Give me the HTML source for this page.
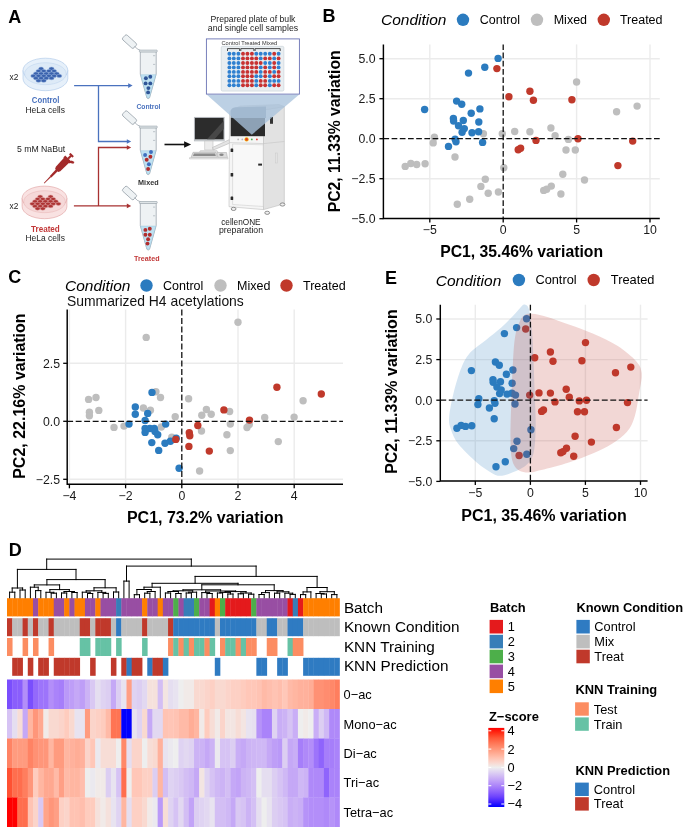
<!DOCTYPE html><html><head><meta charset="utf-8"><style>html,body{margin:0;padding:0;background:#fff;width:685px;height:827px;overflow:hidden}svg{display:block;will-change:transform}text{font-family:"Liberation Sans",sans-serif}</style></head><body><svg width="685" height="827" viewBox="0 0 685 827" font-family="Liberation Sans, sans-serif">
<rect width="685" height="827" fill="#fff"/>
<text x="322.6" y="22.2" font-size="18.00" font-weight="bold" fill="#000">B</text>
<text x="381.0" y="24.8" font-size="15.50" font-style="italic" fill="#000">Condition</text>
<circle cx="463.0" cy="19.8" r="6.20" fill="#2b7bbf"/>
<text x="479.8" y="24.2" font-size="12.50" fill="#000">Control</text>
<circle cx="537.0" cy="19.8" r="6.20" fill="#bebebe"/>
<text x="553.7" y="24.2" font-size="12.50" fill="#000">Mixed</text>
<circle cx="603.8" cy="19.8" r="6.20" fill="#c0392b"/>
<text x="619.9" y="24.2" font-size="12.50" fill="#000">Treated</text>
<line x1="429.8" y1="44.4" x2="429.8" y2="218.5" stroke="#ebebeb" stroke-width="1.4"/>
<line x1="576.6" y1="44.4" x2="576.6" y2="218.5" stroke="#ebebeb" stroke-width="1.4"/>
<line x1="650.0" y1="44.4" x2="650.0" y2="218.5" stroke="#ebebeb" stroke-width="1.4"/>
<line x1="383.4" y1="58.7" x2="659.8" y2="58.7" stroke="#ebebeb" stroke-width="1.4"/>
<line x1="383.4" y1="98.7" x2="659.8" y2="98.7" stroke="#ebebeb" stroke-width="1.4"/>
<line x1="383.4" y1="178.7" x2="659.8" y2="178.7" stroke="#ebebeb" stroke-width="1.4"/>
<circle cx="576.6" cy="82.0" r="3.70" fill="#bebebe"/>
<circle cx="616.6" cy="111.7" r="3.70" fill="#bebebe"/>
<circle cx="637.1" cy="106.1" r="3.70" fill="#bebebe"/>
<circle cx="483.4" cy="133.7" r="3.70" fill="#bebebe"/>
<circle cx="502.3" cy="133.7" r="3.70" fill="#bebebe"/>
<circle cx="514.7" cy="131.5" r="3.70" fill="#bebebe"/>
<circle cx="529.9" cy="131.7" r="3.70" fill="#bebebe"/>
<circle cx="550.9" cy="128.0" r="3.70" fill="#bebebe"/>
<circle cx="555.1" cy="135.7" r="3.70" fill="#bebebe"/>
<circle cx="568.4" cy="139.4" r="3.70" fill="#bebebe"/>
<circle cx="434.4" cy="137.3" r="3.70" fill="#bebebe"/>
<circle cx="433.2" cy="142.9" r="3.70" fill="#bebebe"/>
<circle cx="455.0" cy="157.0" r="3.70" fill="#bebebe"/>
<circle cx="405.2" cy="166.4" r="3.70" fill="#bebebe"/>
<circle cx="410.8" cy="163.5" r="3.70" fill="#bebebe"/>
<circle cx="416.7" cy="164.5" r="3.70" fill="#bebebe"/>
<circle cx="425.1" cy="163.8" r="3.70" fill="#bebebe"/>
<circle cx="503.8" cy="167.8" r="3.70" fill="#bebebe"/>
<circle cx="485.3" cy="179.2" r="3.70" fill="#bebebe"/>
<circle cx="480.9" cy="186.4" r="3.70" fill="#bebebe"/>
<circle cx="488.2" cy="193.2" r="3.70" fill="#bebebe"/>
<circle cx="498.4" cy="192.0" r="3.70" fill="#bebebe"/>
<circle cx="469.7" cy="199.3" r="3.70" fill="#bebebe"/>
<circle cx="457.3" cy="204.2" r="3.70" fill="#bebebe"/>
<circle cx="566.0" cy="150.0" r="3.70" fill="#bebebe"/>
<circle cx="575.3" cy="150.0" r="3.70" fill="#bebebe"/>
<circle cx="562.8" cy="174.3" r="3.70" fill="#bebebe"/>
<circle cx="584.5" cy="180.0" r="3.70" fill="#bebebe"/>
<circle cx="551.3" cy="186.1" r="3.70" fill="#bebebe"/>
<circle cx="543.7" cy="190.4" r="3.70" fill="#bebebe"/>
<circle cx="546.7" cy="189.3" r="3.70" fill="#bebebe"/>
<circle cx="560.9" cy="194.0" r="3.70" fill="#bebebe"/>
<circle cx="498.1" cy="58.4" r="3.70" fill="#2b7bbf"/>
<circle cx="484.8" cy="67.2" r="3.70" fill="#2b7bbf"/>
<circle cx="468.5" cy="73.1" r="3.70" fill="#2b7bbf"/>
<circle cx="456.6" cy="101.1" r="3.70" fill="#2b7bbf"/>
<circle cx="461.7" cy="104.3" r="3.70" fill="#2b7bbf"/>
<circle cx="424.6" cy="109.5" r="3.70" fill="#2b7bbf"/>
<circle cx="479.9" cy="108.9" r="3.70" fill="#2b7bbf"/>
<circle cx="471.2" cy="113.2" r="3.70" fill="#2b7bbf"/>
<circle cx="453.4" cy="118.4" r="3.70" fill="#2b7bbf"/>
<circle cx="453.6" cy="121.0" r="3.70" fill="#2b7bbf"/>
<circle cx="463.3" cy="120.5" r="3.70" fill="#2b7bbf"/>
<circle cx="478.8" cy="122.0" r="3.70" fill="#2b7bbf"/>
<circle cx="458.5" cy="125.7" r="3.70" fill="#2b7bbf"/>
<circle cx="464.3" cy="128.6" r="3.70" fill="#2b7bbf"/>
<circle cx="462.1" cy="132.2" r="3.70" fill="#2b7bbf"/>
<circle cx="472.0" cy="132.7" r="3.70" fill="#2b7bbf"/>
<circle cx="478.6" cy="131.8" r="3.70" fill="#2b7bbf"/>
<circle cx="455.1" cy="139.1" r="3.70" fill="#2b7bbf"/>
<circle cx="456.0" cy="141.7" r="3.70" fill="#2b7bbf"/>
<circle cx="482.6" cy="142.4" r="3.70" fill="#2b7bbf"/>
<circle cx="448.5" cy="146.4" r="3.70" fill="#2b7bbf"/>
<circle cx="496.9" cy="68.6" r="3.70" fill="#c0392b"/>
<circle cx="508.9" cy="96.8" r="3.70" fill="#c0392b"/>
<circle cx="529.9" cy="91.2" r="3.70" fill="#c0392b"/>
<circle cx="533.4" cy="100.3" r="3.70" fill="#c0392b"/>
<circle cx="571.9" cy="99.8" r="3.70" fill="#c0392b"/>
<circle cx="536.0" cy="140.4" r="3.70" fill="#c0392b"/>
<circle cx="578.0" cy="138.7" r="3.70" fill="#c0392b"/>
<circle cx="632.7" cy="141.1" r="3.70" fill="#c0392b"/>
<circle cx="518.2" cy="149.7" r="3.70" fill="#c0392b"/>
<circle cx="520.6" cy="148.3" r="3.70" fill="#c0392b"/>
<circle cx="617.9" cy="165.6" r="3.70" fill="#c0392b"/>
<line x1="503.2" y1="44.4" x2="503.2" y2="218.5" stroke="#111" stroke-width="1.3" stroke-dasharray="5.7,2.5"/>
<line x1="383.4" y1="138.7" x2="659.8" y2="138.7" stroke="#111" stroke-width="1.3" stroke-dasharray="5.7,2.5"/>
<path d="M383.4,44.4 V218.5 H659.8" fill="none" stroke="#000" stroke-width="1.45"/>
<line x1="429.8" y1="218.5" x2="429.8" y2="222.5" stroke="#000" stroke-width="1.3"/>
<text x="429.8" y="234.3" font-size="12.30" text-anchor="middle" fill="#1a1a1a">−5</text>
<line x1="503.2" y1="218.5" x2="503.2" y2="222.5" stroke="#000" stroke-width="1.3"/>
<text x="503.2" y="234.3" font-size="12.30" text-anchor="middle" fill="#1a1a1a">0</text>
<line x1="576.6" y1="218.5" x2="576.6" y2="222.5" stroke="#000" stroke-width="1.3"/>
<text x="576.6" y="234.3" font-size="12.30" text-anchor="middle" fill="#1a1a1a">5</text>
<line x1="650.0" y1="218.5" x2="650.0" y2="222.5" stroke="#000" stroke-width="1.3"/>
<text x="650.0" y="234.3" font-size="12.30" text-anchor="middle" fill="#1a1a1a">10</text>
<line x1="379.4" y1="58.7" x2="383.4" y2="58.7" stroke="#000" stroke-width="1.3"/>
<text x="375.5" y="63.1" font-size="12.30" text-anchor="end" fill="#1a1a1a">5.0</text>
<line x1="379.4" y1="98.7" x2="383.4" y2="98.7" stroke="#000" stroke-width="1.3"/>
<text x="375.5" y="103.1" font-size="12.30" text-anchor="end" fill="#1a1a1a">2.5</text>
<line x1="379.4" y1="138.7" x2="383.4" y2="138.7" stroke="#000" stroke-width="1.3"/>
<text x="375.5" y="143.1" font-size="12.30" text-anchor="end" fill="#1a1a1a">0.0</text>
<line x1="379.4" y1="178.7" x2="383.4" y2="178.7" stroke="#000" stroke-width="1.3"/>
<text x="375.5" y="183.1" font-size="12.30" text-anchor="end" fill="#1a1a1a">−2.5</text>
<line x1="379.4" y1="218.7" x2="383.4" y2="218.7" stroke="#000" stroke-width="1.3"/>
<text x="375.5" y="223.1" font-size="12.30" text-anchor="end" fill="#1a1a1a">−5.0</text>
<text x="521.6" y="256.9" font-size="15.75" font-weight="bold" text-anchor="middle" fill="#000">PC1, 35.46% variation</text>
<text transform="translate(340,131.3) rotate(-90)" font-size="15.75" font-weight="bold" text-anchor="middle">PC2, 11.33% variation</text>
<text x="8.3" y="283.2" font-size="18.00" font-weight="bold" fill="#000">C</text>
<text x="65.0" y="290.6" font-size="15.50" font-style="italic" fill="#000">Condition</text>
<circle cx="146.5" cy="285.5" r="6.20" fill="#2b7bbf"/>
<text x="163.0" y="290.0" font-size="12.50" fill="#000">Control</text>
<circle cx="220.5" cy="285.5" r="6.20" fill="#bebebe"/>
<text x="237.0" y="290.0" font-size="12.50" fill="#000">Mixed</text>
<circle cx="286.5" cy="285.5" r="6.20" fill="#c0392b"/>
<text x="303.0" y="290.0" font-size="12.50" fill="#000">Treated</text>
<text x="67.0" y="306.0" font-size="13.90" fill="#111">Summarized H4 acetylations</text>
<line x1="69.4" y1="309.5" x2="69.4" y2="484.3" stroke="#ebebeb" stroke-width="1.4"/>
<line x1="125.6" y1="309.5" x2="125.6" y2="484.3" stroke="#ebebeb" stroke-width="1.4"/>
<line x1="238.0" y1="309.5" x2="238.0" y2="484.3" stroke="#ebebeb" stroke-width="1.4"/>
<line x1="294.2" y1="309.5" x2="294.2" y2="484.3" stroke="#ebebeb" stroke-width="1.4"/>
<line x1="67.2" y1="363.3" x2="343.0" y2="363.3" stroke="#ebebeb" stroke-width="1.4"/>
<line x1="67.2" y1="479.3" x2="343.0" y2="479.3" stroke="#ebebeb" stroke-width="1.4"/>
<circle cx="146.2" cy="337.4" r="3.70" fill="#bebebe"/>
<circle cx="238.0" cy="322.2" r="3.70" fill="#bebebe"/>
<circle cx="88.6" cy="399.4" r="3.70" fill="#bebebe"/>
<circle cx="96.0" cy="397.5" r="3.70" fill="#bebebe"/>
<circle cx="89.4" cy="412.3" r="3.70" fill="#bebebe"/>
<circle cx="89.4" cy="415.7" r="3.70" fill="#bebebe"/>
<circle cx="98.8" cy="410.4" r="3.70" fill="#bebebe"/>
<circle cx="114.0" cy="427.4" r="3.70" fill="#bebebe"/>
<circle cx="124.0" cy="426.1" r="3.70" fill="#bebebe"/>
<circle cx="143.4" cy="408.0" r="3.70" fill="#bebebe"/>
<circle cx="150.4" cy="410.2" r="3.70" fill="#bebebe"/>
<circle cx="155.9" cy="391.7" r="3.70" fill="#bebebe"/>
<circle cx="160.5" cy="397.5" r="3.70" fill="#bebebe"/>
<circle cx="188.6" cy="398.8" r="3.70" fill="#bebebe"/>
<circle cx="175.2" cy="416.8" r="3.70" fill="#bebebe"/>
<circle cx="161.3" cy="427.0" r="3.70" fill="#bebebe"/>
<circle cx="171.8" cy="437.2" r="3.70" fill="#bebebe"/>
<circle cx="199.6" cy="471.0" r="3.70" fill="#bebebe"/>
<circle cx="201.5" cy="431.0" r="3.70" fill="#bebebe"/>
<circle cx="201.8" cy="415.3" r="3.70" fill="#bebebe"/>
<circle cx="206.4" cy="409.5" r="3.70" fill="#bebebe"/>
<circle cx="211.2" cy="414.2" r="3.70" fill="#bebebe"/>
<circle cx="229.6" cy="411.5" r="3.70" fill="#bebebe"/>
<circle cx="264.7" cy="417.4" r="3.70" fill="#bebebe"/>
<circle cx="294.1" cy="417.1" r="3.70" fill="#bebebe"/>
<circle cx="303.1" cy="400.8" r="3.70" fill="#bebebe"/>
<circle cx="249.3" cy="424.6" r="3.70" fill="#bebebe"/>
<circle cx="247.0" cy="427.5" r="3.70" fill="#bebebe"/>
<circle cx="230.3" cy="424.1" r="3.70" fill="#bebebe"/>
<circle cx="226.9" cy="434.8" r="3.70" fill="#bebebe"/>
<circle cx="278.3" cy="441.6" r="3.70" fill="#bebebe"/>
<circle cx="230.3" cy="450.6" r="3.70" fill="#bebebe"/>
<circle cx="152.0" cy="392.4" r="3.70" fill="#2b7bbf"/>
<circle cx="135.3" cy="407.0" r="3.70" fill="#2b7bbf"/>
<circle cx="135.3" cy="414.2" r="3.70" fill="#2b7bbf"/>
<circle cx="147.7" cy="413.4" r="3.70" fill="#2b7bbf"/>
<circle cx="145.1" cy="420.4" r="3.70" fill="#2b7bbf"/>
<circle cx="129.0" cy="424.1" r="3.70" fill="#2b7bbf"/>
<circle cx="145.1" cy="428.5" r="3.70" fill="#2b7bbf"/>
<circle cx="145.1" cy="432.4" r="3.70" fill="#2b7bbf"/>
<circle cx="149.9" cy="428.5" r="3.70" fill="#2b7bbf"/>
<circle cx="154.3" cy="428.5" r="3.70" fill="#2b7bbf"/>
<circle cx="155.0" cy="431.4" r="3.70" fill="#2b7bbf"/>
<circle cx="157.7" cy="434.7" r="3.70" fill="#2b7bbf"/>
<circle cx="165.7" cy="424.1" r="3.70" fill="#2b7bbf"/>
<circle cx="176.2" cy="438.2" r="3.70" fill="#2b7bbf"/>
<circle cx="170.4" cy="441.3" r="3.70" fill="#2b7bbf"/>
<circle cx="165.0" cy="443.2" r="3.70" fill="#2b7bbf"/>
<circle cx="151.8" cy="442.6" r="3.70" fill="#2b7bbf"/>
<circle cx="158.7" cy="450.4" r="3.70" fill="#2b7bbf"/>
<circle cx="179.1" cy="468.3" r="3.70" fill="#2b7bbf"/>
<circle cx="175.8" cy="439.4" r="3.70" fill="#c0392b"/>
<circle cx="197.8" cy="425.5" r="3.70" fill="#c0392b"/>
<circle cx="189.3" cy="432.8" r="3.70" fill="#c0392b"/>
<circle cx="189.8" cy="435.8" r="3.70" fill="#c0392b"/>
<circle cx="188.9" cy="446.4" r="3.70" fill="#c0392b"/>
<circle cx="209.3" cy="451.1" r="3.70" fill="#c0392b"/>
<circle cx="276.9" cy="387.2" r="3.70" fill="#c0392b"/>
<circle cx="321.3" cy="394.0" r="3.70" fill="#c0392b"/>
<circle cx="223.9" cy="409.9" r="3.70" fill="#c0392b"/>
<circle cx="249.5" cy="420.1" r="3.70" fill="#c0392b"/>
<line x1="181.8" y1="309.5" x2="181.8" y2="484.3" stroke="#111" stroke-width="1.3" stroke-dasharray="5.9,2.6"/>
<line x1="67.2" y1="421.3" x2="343.0" y2="421.3" stroke="#111" stroke-width="1.3" stroke-dasharray="5.9,2.6"/>
<path d="M67.2,309.5 V484.3 H343.0" fill="none" stroke="#000" stroke-width="1.45"/>
<line x1="69.4" y1="484.3" x2="69.4" y2="488.3" stroke="#000" stroke-width="1.3"/>
<text x="69.4" y="500.2" font-size="12.30" text-anchor="middle" fill="#1a1a1a">−4</text>
<line x1="125.6" y1="484.3" x2="125.6" y2="488.3" stroke="#000" stroke-width="1.3"/>
<text x="125.6" y="500.2" font-size="12.30" text-anchor="middle" fill="#1a1a1a">−2</text>
<line x1="181.8" y1="484.3" x2="181.8" y2="488.3" stroke="#000" stroke-width="1.3"/>
<text x="181.8" y="500.2" font-size="12.30" text-anchor="middle" fill="#1a1a1a">0</text>
<line x1="238.0" y1="484.3" x2="238.0" y2="488.3" stroke="#000" stroke-width="1.3"/>
<text x="238.0" y="500.2" font-size="12.30" text-anchor="middle" fill="#1a1a1a">2</text>
<line x1="294.2" y1="484.3" x2="294.2" y2="488.3" stroke="#000" stroke-width="1.3"/>
<text x="294.2" y="500.2" font-size="12.30" text-anchor="middle" fill="#1a1a1a">4</text>
<line x1="63.2" y1="363.3" x2="67.2" y2="363.3" stroke="#000" stroke-width="1.3"/>
<text x="60.0" y="367.7" font-size="12.30" text-anchor="end" fill="#1a1a1a">2.5</text>
<line x1="63.2" y1="421.3" x2="67.2" y2="421.3" stroke="#000" stroke-width="1.3"/>
<text x="60.0" y="425.7" font-size="12.30" text-anchor="end" fill="#1a1a1a">0.0</text>
<line x1="63.2" y1="479.3" x2="67.2" y2="479.3" stroke="#000" stroke-width="1.3"/>
<text x="60.0" y="483.7" font-size="12.30" text-anchor="end" fill="#1a1a1a">−2.5</text>
<text x="205.2" y="522.7" font-size="16.00" font-weight="bold" text-anchor="middle" fill="#000">PC1, 73.2% variation</text>
<text transform="translate(25.2,396.1) rotate(-90)" font-size="16" font-weight="bold" text-anchor="middle">PC2, 22.16% variation</text>
<text x="385.0" y="283.6" font-size="18.00" font-weight="bold" fill="#000">E</text>
<text x="435.8" y="285.5" font-size="15.50" font-style="italic" fill="#000">Condition</text>
<circle cx="518.9" cy="280.0" r="6.20" fill="#2b7bbf"/>
<text x="535.4" y="284.2" font-size="12.80" fill="#000">Control</text>
<circle cx="593.7" cy="280.0" r="6.20" fill="#c0392b"/>
<text x="610.8" y="284.2" font-size="12.80" fill="#000">Treated</text>
<line x1="475.3" y1="304.7" x2="475.3" y2="480.9" stroke="#ebebeb" stroke-width="1.4"/>
<line x1="585.4" y1="304.7" x2="585.4" y2="480.9" stroke="#ebebeb" stroke-width="1.4"/>
<line x1="640.5" y1="304.7" x2="640.5" y2="480.9" stroke="#ebebeb" stroke-width="1.4"/>
<line x1="440.3" y1="319.0" x2="647.6" y2="319.0" stroke="#ebebeb" stroke-width="1.4"/>
<line x1="440.3" y1="359.6" x2="647.6" y2="359.6" stroke="#ebebeb" stroke-width="1.4"/>
<line x1="440.3" y1="440.8" x2="647.6" y2="440.8" stroke="#ebebeb" stroke-width="1.4"/>
<circle cx="515.5" cy="395.1" r="3.70" fill="#2b7bbf"/>
<circle cx="478.8" cy="398.8" r="3.70" fill="#2b7bbf"/>
<circle cx="477.9" cy="404.5" r="3.70" fill="#2b7bbf"/>
<circle cx="494.2" cy="418.8" r="3.70" fill="#2b7bbf"/>
<circle cx="456.9" cy="428.3" r="3.70" fill="#2b7bbf"/>
<circle cx="461.1" cy="425.4" r="3.70" fill="#2b7bbf"/>
<circle cx="465.5" cy="426.4" r="3.70" fill="#2b7bbf"/>
<circle cx="471.8" cy="425.7" r="3.70" fill="#2b7bbf"/>
<circle cx="530.9" cy="429.7" r="3.70" fill="#2b7bbf"/>
<circle cx="517.0" cy="441.3" r="3.70" fill="#2b7bbf"/>
<circle cx="513.7" cy="448.6" r="3.70" fill="#2b7bbf"/>
<circle cx="526.8" cy="454.3" r="3.70" fill="#2b7bbf"/>
<circle cx="505.3" cy="461.7" r="3.70" fill="#2b7bbf"/>
<circle cx="496.0" cy="466.7" r="3.70" fill="#2b7bbf"/>
<circle cx="526.6" cy="318.7" r="3.70" fill="#2b7bbf"/>
<circle cx="516.6" cy="327.6" r="3.70" fill="#2b7bbf"/>
<circle cx="504.4" cy="333.6" r="3.70" fill="#2b7bbf"/>
<circle cx="495.4" cy="362.0" r="3.70" fill="#2b7bbf"/>
<circle cx="499.3" cy="365.3" r="3.70" fill="#2b7bbf"/>
<circle cx="471.4" cy="370.6" r="3.70" fill="#2b7bbf"/>
<circle cx="512.9" cy="370.0" r="3.70" fill="#2b7bbf"/>
<circle cx="506.4" cy="374.3" r="3.70" fill="#2b7bbf"/>
<circle cx="493.0" cy="379.6" r="3.70" fill="#2b7bbf"/>
<circle cx="493.2" cy="382.2" r="3.70" fill="#2b7bbf"/>
<circle cx="500.5" cy="381.7" r="3.70" fill="#2b7bbf"/>
<circle cx="512.1" cy="383.2" r="3.70" fill="#2b7bbf"/>
<circle cx="496.9" cy="387.0" r="3.70" fill="#2b7bbf"/>
<circle cx="501.2" cy="389.9" r="3.70" fill="#2b7bbf"/>
<circle cx="499.6" cy="393.6" r="3.70" fill="#2b7bbf"/>
<circle cx="507.0" cy="394.1" r="3.70" fill="#2b7bbf"/>
<circle cx="511.9" cy="393.2" r="3.70" fill="#2b7bbf"/>
<circle cx="494.3" cy="400.6" r="3.70" fill="#2b7bbf"/>
<circle cx="495.0" cy="403.2" r="3.70" fill="#2b7bbf"/>
<circle cx="515.0" cy="404.0" r="3.70" fill="#2b7bbf"/>
<circle cx="489.4" cy="408.0" r="3.70" fill="#2b7bbf"/>
<circle cx="585.5" cy="342.6" r="3.70" fill="#c0392b"/>
<circle cx="615.5" cy="372.8" r="3.70" fill="#c0392b"/>
<circle cx="630.8" cy="367.1" r="3.70" fill="#c0392b"/>
<circle cx="529.7" cy="395.1" r="3.70" fill="#c0392b"/>
<circle cx="539.0" cy="392.9" r="3.70" fill="#c0392b"/>
<circle cx="550.4" cy="393.1" r="3.70" fill="#c0392b"/>
<circle cx="566.2" cy="389.3" r="3.70" fill="#c0392b"/>
<circle cx="569.3" cy="397.2" r="3.70" fill="#c0392b"/>
<circle cx="579.3" cy="400.9" r="3.70" fill="#c0392b"/>
<circle cx="519.1" cy="455.5" r="3.70" fill="#c0392b"/>
<circle cx="577.5" cy="411.7" r="3.70" fill="#c0392b"/>
<circle cx="584.5" cy="411.7" r="3.70" fill="#c0392b"/>
<circle cx="575.1" cy="436.3" r="3.70" fill="#c0392b"/>
<circle cx="591.4" cy="442.1" r="3.70" fill="#c0392b"/>
<circle cx="566.5" cy="448.3" r="3.70" fill="#c0392b"/>
<circle cx="560.8" cy="452.7" r="3.70" fill="#c0392b"/>
<circle cx="563.0" cy="451.6" r="3.70" fill="#c0392b"/>
<circle cx="573.7" cy="456.3" r="3.70" fill="#c0392b"/>
<circle cx="525.7" cy="329.0" r="3.70" fill="#c0392b"/>
<circle cx="534.7" cy="357.7" r="3.70" fill="#c0392b"/>
<circle cx="550.4" cy="352.0" r="3.70" fill="#c0392b"/>
<circle cx="553.0" cy="361.2" r="3.70" fill="#c0392b"/>
<circle cx="581.9" cy="360.7" r="3.70" fill="#c0392b"/>
<circle cx="555.0" cy="401.9" r="3.70" fill="#c0392b"/>
<circle cx="586.5" cy="400.2" r="3.70" fill="#c0392b"/>
<circle cx="627.5" cy="402.6" r="3.70" fill="#c0392b"/>
<circle cx="541.6" cy="411.4" r="3.70" fill="#c0392b"/>
<circle cx="543.5" cy="409.9" r="3.70" fill="#c0392b"/>
<circle cx="616.4" cy="427.5" r="3.70" fill="#c0392b"/>
<path d="M524.3,304.6 C525.7,304.9 527.6,304.9 528.9,309.2 C530.2,313.5 531.2,322.0 532.0,330.7 C532.8,339.4 533.0,349.6 533.5,361.3 C534.0,373.1 534.6,389.9 535.0,401.2 C535.4,412.4 535.9,420.1 535.6,428.8 C535.4,437.5 535.1,447.2 533.5,453.3 C531.9,459.4 529.6,462.2 525.8,465.5 C522.0,468.8 514.8,471.5 510.5,473.2 C506.2,474.9 502.9,475.7 499.8,475.7 C496.7,475.7 495.9,475.4 492.1,473.2 C488.3,471.0 482.4,467.4 476.8,462.5 C471.2,457.6 462.8,449.7 458.4,444.1 C454.0,438.5 452.2,433.4 450.7,428.8 C449.2,424.2 448.7,422.6 449.2,416.5 C449.7,410.4 451.8,400.2 453.8,392.0 C455.9,383.8 458.7,374.0 461.5,367.4 C464.3,360.8 466.6,356.7 470.7,352.1 C474.8,347.5 480.9,344.0 486.0,339.9 C491.1,335.8 496.7,331.7 501.3,327.6 C505.9,323.5 510.4,318.6 513.6,315.3 C516.8,312.0 518.5,309.5 520.3,307.7 C522.1,305.9 522.9,304.4 524.3,304.6Z" fill="#2b7bbf" fill-opacity="0.2"/>
<path d="M532.0,313.8 C535.8,314.1 541.2,315.1 547.3,316.9 C553.4,318.7 561.1,321.7 568.8,324.5 C576.5,327.3 585.1,330.1 593.3,333.7 C601.5,337.3 610.6,341.4 617.8,346.0 C624.9,350.6 632.2,356.7 636.2,361.3 C640.2,365.9 641.2,368.5 641.7,373.6 C642.2,378.7 640.5,384.9 639.3,392.0 C638.1,399.1 636.8,409.9 634.7,416.5 C632.7,423.1 630.8,427.2 627.0,431.8 C623.2,436.4 617.3,440.5 611.7,444.1 C606.1,447.7 600.4,450.2 593.3,453.3 C586.1,456.4 577.5,459.7 568.8,462.5 C560.1,465.3 547.9,468.4 541.2,470.1 C534.6,471.8 532.7,472.6 528.9,472.6 C525.1,472.6 521.0,472.3 518.2,470.1 C515.4,467.9 513.3,464.8 512.0,459.4 C510.7,454.0 510.6,446.6 510.5,437.9 C510.4,429.2 510.7,420.1 511.1,407.3 C511.5,394.5 512.3,373.1 513.0,361.3 C513.7,349.6 514.1,343.2 515.1,336.8 C516.1,330.4 517.6,326.6 519.1,323.0 C520.6,319.4 522.1,316.8 524.3,315.3 C526.4,313.8 528.2,313.5 532.0,313.8Z" fill="#c0392b" fill-opacity="0.2"/>
<line x1="530.4" y1="304.7" x2="530.4" y2="480.9" stroke="#111" stroke-width="1.3" stroke-dasharray="5.9,2.6"/>
<line x1="440.3" y1="400.2" x2="647.6" y2="400.2" stroke="#111" stroke-width="1.3" stroke-dasharray="5.9,2.6"/>
<path d="M440.3,304.7 V480.9 H647.6" fill="none" stroke="#000" stroke-width="1.45"/>
<line x1="475.3" y1="480.9" x2="475.3" y2="484.9" stroke="#000" stroke-width="1.3"/>
<text x="475.3" y="496.6" font-size="12.30" text-anchor="middle" fill="#1a1a1a">−5</text>
<line x1="530.4" y1="480.9" x2="530.4" y2="484.9" stroke="#000" stroke-width="1.3"/>
<text x="530.4" y="496.6" font-size="12.30" text-anchor="middle" fill="#1a1a1a">0</text>
<line x1="585.4" y1="480.9" x2="585.4" y2="484.9" stroke="#000" stroke-width="1.3"/>
<text x="585.4" y="496.6" font-size="12.30" text-anchor="middle" fill="#1a1a1a">5</text>
<line x1="640.5" y1="480.9" x2="640.5" y2="484.9" stroke="#000" stroke-width="1.3"/>
<text x="640.5" y="496.6" font-size="12.30" text-anchor="middle" fill="#1a1a1a">10</text>
<line x1="436.3" y1="319.0" x2="440.3" y2="319.0" stroke="#000" stroke-width="1.3"/>
<text x="432.3" y="323.4" font-size="12.30" text-anchor="end" fill="#1a1a1a">5.0</text>
<line x1="436.3" y1="359.6" x2="440.3" y2="359.6" stroke="#000" stroke-width="1.3"/>
<text x="432.3" y="364.0" font-size="12.30" text-anchor="end" fill="#1a1a1a">2.5</text>
<line x1="436.3" y1="400.2" x2="440.3" y2="400.2" stroke="#000" stroke-width="1.3"/>
<text x="432.3" y="404.6" font-size="12.30" text-anchor="end" fill="#1a1a1a">0.0</text>
<line x1="436.3" y1="440.8" x2="440.3" y2="440.8" stroke="#000" stroke-width="1.3"/>
<text x="432.3" y="445.2" font-size="12.30" text-anchor="end" fill="#1a1a1a">−2.5</text>
<line x1="436.3" y1="481.4" x2="440.3" y2="481.4" stroke="#000" stroke-width="1.3"/>
<text x="432.3" y="485.8" font-size="12.30" text-anchor="end" fill="#1a1a1a">−5.0</text>
<text x="544.0" y="520.6" font-size="16.00" font-weight="bold" text-anchor="middle" fill="#000">PC1, 35.46% variation</text>
<text transform="translate(397,391.6) rotate(-90)" font-size="16" font-weight="bold" text-anchor="middle">PC2, 11.33% variation</text>
<text x="8.8" y="555.8" font-size="18.00" font-weight="bold" fill="#000">D</text>
<rect x="7.00" y="598.20" width="5.54" height="18.20" fill="#ff7f00"/>
<rect x="7.00" y="618.20" width="5.54" height="18.00" fill="#c0392b"/>
<rect x="7.00" y="638.00" width="5.54" height="18.00" fill="#fc8d62"/>
<rect x="12.20" y="598.20" width="5.54" height="18.20" fill="#ff7f00"/>
<rect x="12.20" y="618.20" width="5.54" height="18.00" fill="#bebebe"/>
<rect x="12.20" y="657.80" width="5.54" height="18.00" fill="#c0392b"/>
<rect x="17.39" y="598.20" width="5.54" height="18.20" fill="#ff7f00"/>
<rect x="17.39" y="618.20" width="5.54" height="18.00" fill="#bebebe"/>
<rect x="17.39" y="657.80" width="5.54" height="18.00" fill="#c0392b"/>
<rect x="22.59" y="598.20" width="5.54" height="18.20" fill="#ff7f00"/>
<rect x="22.59" y="618.20" width="5.54" height="18.00" fill="#c0392b"/>
<rect x="22.59" y="638.00" width="5.54" height="18.00" fill="#fc8d62"/>
<rect x="27.78" y="598.20" width="5.54" height="18.20" fill="#ff7f00"/>
<rect x="27.78" y="618.20" width="5.54" height="18.00" fill="#bebebe"/>
<rect x="27.78" y="657.80" width="5.54" height="18.00" fill="#c0392b"/>
<rect x="32.98" y="598.20" width="5.54" height="18.20" fill="#984ea3"/>
<rect x="32.98" y="618.20" width="5.54" height="18.00" fill="#c0392b"/>
<rect x="32.98" y="638.00" width="5.54" height="18.00" fill="#fc8d62"/>
<rect x="38.17" y="598.20" width="5.54" height="18.20" fill="#ff7f00"/>
<rect x="38.17" y="618.20" width="5.54" height="18.00" fill="#bebebe"/>
<rect x="38.17" y="657.80" width="5.54" height="18.00" fill="#c0392b"/>
<rect x="43.37" y="598.20" width="5.54" height="18.20" fill="#ff7f00"/>
<rect x="43.37" y="618.20" width="5.54" height="18.00" fill="#bebebe"/>
<rect x="43.37" y="657.80" width="5.54" height="18.00" fill="#c0392b"/>
<rect x="48.56" y="598.20" width="5.54" height="18.20" fill="#ff7f00"/>
<rect x="48.56" y="618.20" width="5.54" height="18.00" fill="#c0392b"/>
<rect x="48.56" y="638.00" width="5.54" height="18.00" fill="#fc8d62"/>
<rect x="53.76" y="598.20" width="5.54" height="18.20" fill="#984ea3"/>
<rect x="53.76" y="618.20" width="5.54" height="18.00" fill="#bebebe"/>
<rect x="53.76" y="657.80" width="5.54" height="18.00" fill="#c0392b"/>
<rect x="58.95" y="598.20" width="5.54" height="18.20" fill="#984ea3"/>
<rect x="58.95" y="618.20" width="5.54" height="18.00" fill="#bebebe"/>
<rect x="58.95" y="657.80" width="5.54" height="18.00" fill="#c0392b"/>
<rect x="64.15" y="598.20" width="5.54" height="18.20" fill="#ff7f00"/>
<rect x="64.15" y="618.20" width="5.54" height="18.00" fill="#bebebe"/>
<rect x="64.15" y="657.80" width="5.54" height="18.00" fill="#c0392b"/>
<rect x="69.34" y="598.20" width="5.54" height="18.20" fill="#984ea3"/>
<rect x="69.34" y="618.20" width="5.54" height="18.00" fill="#bebebe"/>
<rect x="69.34" y="657.80" width="5.54" height="18.00" fill="#c0392b"/>
<rect x="74.53" y="598.20" width="5.54" height="18.20" fill="#ff7f00"/>
<rect x="74.53" y="618.20" width="5.54" height="18.00" fill="#bebebe"/>
<rect x="74.53" y="657.80" width="5.54" height="18.00" fill="#c0392b"/>
<rect x="79.73" y="598.20" width="5.54" height="18.20" fill="#ff7f00"/>
<rect x="79.73" y="618.20" width="5.54" height="18.00" fill="#c0392b"/>
<rect x="79.73" y="638.00" width="5.54" height="18.00" fill="#66c2a5"/>
<rect x="84.93" y="598.20" width="5.54" height="18.20" fill="#984ea3"/>
<rect x="84.93" y="618.20" width="5.54" height="18.00" fill="#c0392b"/>
<rect x="84.93" y="638.00" width="5.54" height="18.00" fill="#66c2a5"/>
<rect x="90.12" y="598.20" width="5.54" height="18.20" fill="#984ea3"/>
<rect x="90.12" y="618.20" width="5.54" height="18.00" fill="#bebebe"/>
<rect x="90.12" y="657.80" width="5.54" height="18.00" fill="#c0392b"/>
<rect x="95.31" y="598.20" width="5.54" height="18.20" fill="#ff7f00"/>
<rect x="95.31" y="618.20" width="5.54" height="18.00" fill="#c0392b"/>
<rect x="95.31" y="638.00" width="5.54" height="18.00" fill="#66c2a5"/>
<rect x="100.51" y="598.20" width="5.54" height="18.20" fill="#984ea3"/>
<rect x="100.51" y="618.20" width="5.54" height="18.00" fill="#c0392b"/>
<rect x="100.51" y="638.00" width="5.54" height="18.00" fill="#66c2a5"/>
<rect x="105.71" y="598.20" width="5.54" height="18.20" fill="#984ea3"/>
<rect x="105.71" y="618.20" width="5.54" height="18.00" fill="#c0392b"/>
<rect x="105.71" y="638.00" width="5.54" height="18.00" fill="#66c2a5"/>
<rect x="110.90" y="598.20" width="5.54" height="18.20" fill="#984ea3"/>
<rect x="110.90" y="618.20" width="5.54" height="18.00" fill="#bebebe"/>
<rect x="110.90" y="657.80" width="5.54" height="18.00" fill="#c0392b"/>
<rect x="116.09" y="598.20" width="5.54" height="18.20" fill="#377eb8"/>
<rect x="116.09" y="618.20" width="5.54" height="18.00" fill="#2f7bc2"/>
<rect x="116.09" y="638.00" width="5.54" height="18.00" fill="#66c2a5"/>
<rect x="121.29" y="598.20" width="5.54" height="18.20" fill="#984ea3"/>
<rect x="121.29" y="618.20" width="5.54" height="18.00" fill="#bebebe"/>
<rect x="121.29" y="657.80" width="5.54" height="18.00" fill="#c0392b"/>
<rect x="126.49" y="598.20" width="5.54" height="18.20" fill="#984ea3"/>
<rect x="126.49" y="618.20" width="5.54" height="18.00" fill="#bebebe"/>
<rect x="126.49" y="657.80" width="5.54" height="18.00" fill="#2f7bc2"/>
<rect x="131.68" y="598.20" width="5.54" height="18.20" fill="#984ea3"/>
<rect x="131.68" y="618.20" width="5.54" height="18.00" fill="#bebebe"/>
<rect x="131.68" y="657.80" width="5.54" height="18.00" fill="#c0392b"/>
<rect x="136.88" y="598.20" width="5.54" height="18.20" fill="#984ea3"/>
<rect x="136.88" y="618.20" width="5.54" height="18.00" fill="#bebebe"/>
<rect x="136.88" y="657.80" width="5.54" height="18.00" fill="#c0392b"/>
<rect x="142.07" y="598.20" width="5.54" height="18.20" fill="#ff7f00"/>
<rect x="142.07" y="618.20" width="5.54" height="18.00" fill="#c0392b"/>
<rect x="142.07" y="638.00" width="5.54" height="18.00" fill="#66c2a5"/>
<rect x="147.27" y="598.20" width="5.54" height="18.20" fill="#984ea3"/>
<rect x="147.27" y="618.20" width="5.54" height="18.00" fill="#bebebe"/>
<rect x="147.27" y="657.80" width="5.54" height="18.00" fill="#2f7bc2"/>
<rect x="152.46" y="598.20" width="5.54" height="18.20" fill="#984ea3"/>
<rect x="152.46" y="618.20" width="5.54" height="18.00" fill="#bebebe"/>
<rect x="152.46" y="657.80" width="5.54" height="18.00" fill="#c0392b"/>
<rect x="157.66" y="598.20" width="5.54" height="18.20" fill="#ff7f00"/>
<rect x="157.66" y="618.20" width="5.54" height="18.00" fill="#bebebe"/>
<rect x="157.66" y="657.80" width="5.54" height="18.00" fill="#c0392b"/>
<rect x="162.85" y="598.20" width="5.54" height="18.20" fill="#984ea3"/>
<rect x="162.85" y="618.20" width="5.54" height="18.00" fill="#bebebe"/>
<rect x="162.85" y="657.80" width="5.54" height="18.00" fill="#2f7bc2"/>
<rect x="168.05" y="598.20" width="5.54" height="18.20" fill="#984ea3"/>
<rect x="168.05" y="618.20" width="5.54" height="18.00" fill="#c0392b"/>
<rect x="168.05" y="638.00" width="5.54" height="18.00" fill="#fc8d62"/>
<rect x="173.24" y="598.20" width="5.54" height="18.20" fill="#4daf4a"/>
<rect x="173.24" y="618.20" width="5.54" height="18.00" fill="#2f7bc2"/>
<rect x="173.24" y="638.00" width="5.54" height="18.00" fill="#66c2a5"/>
<rect x="178.44" y="598.20" width="5.54" height="18.20" fill="#984ea3"/>
<rect x="178.44" y="618.20" width="5.54" height="18.00" fill="#2f7bc2"/>
<rect x="178.44" y="638.00" width="5.54" height="18.00" fill="#fc8d62"/>
<rect x="183.63" y="598.20" width="5.54" height="18.20" fill="#377eb8"/>
<rect x="183.63" y="618.20" width="5.54" height="18.00" fill="#2f7bc2"/>
<rect x="183.63" y="638.00" width="5.54" height="18.00" fill="#66c2a5"/>
<rect x="188.83" y="598.20" width="5.54" height="18.20" fill="#377eb8"/>
<rect x="188.83" y="618.20" width="5.54" height="18.00" fill="#2f7bc2"/>
<rect x="188.83" y="638.00" width="5.54" height="18.00" fill="#fc8d62"/>
<rect x="194.02" y="598.20" width="5.54" height="18.20" fill="#4daf4a"/>
<rect x="194.02" y="618.20" width="5.54" height="18.00" fill="#2f7bc2"/>
<rect x="194.02" y="638.00" width="5.54" height="18.00" fill="#66c2a5"/>
<rect x="199.22" y="598.20" width="5.54" height="18.20" fill="#984ea3"/>
<rect x="199.22" y="618.20" width="5.54" height="18.00" fill="#2f7bc2"/>
<rect x="199.22" y="638.00" width="5.54" height="18.00" fill="#66c2a5"/>
<rect x="204.41" y="598.20" width="5.54" height="18.20" fill="#984ea3"/>
<rect x="204.41" y="618.20" width="5.54" height="18.00" fill="#2f7bc2"/>
<rect x="204.41" y="638.00" width="5.54" height="18.00" fill="#fc8d62"/>
<rect x="209.61" y="598.20" width="5.54" height="18.20" fill="#e41a1c"/>
<rect x="209.61" y="618.20" width="5.54" height="18.00" fill="#2f7bc2"/>
<rect x="209.61" y="638.00" width="5.54" height="18.00" fill="#66c2a5"/>
<rect x="214.80" y="598.20" width="5.54" height="18.20" fill="#ff7f00"/>
<rect x="214.80" y="618.20" width="5.54" height="18.00" fill="#bebebe"/>
<rect x="214.80" y="657.80" width="5.54" height="18.00" fill="#2f7bc2"/>
<rect x="220.00" y="598.20" width="5.54" height="18.20" fill="#4daf4a"/>
<rect x="220.00" y="618.20" width="5.54" height="18.00" fill="#2f7bc2"/>
<rect x="220.00" y="638.00" width="5.54" height="18.00" fill="#fc8d62"/>
<rect x="225.19" y="598.20" width="5.54" height="18.20" fill="#e41a1c"/>
<rect x="225.19" y="618.20" width="5.54" height="18.00" fill="#2f7bc2"/>
<rect x="225.19" y="638.00" width="5.54" height="18.00" fill="#66c2a5"/>
<rect x="230.39" y="598.20" width="5.54" height="18.20" fill="#e41a1c"/>
<rect x="230.39" y="618.20" width="5.54" height="18.00" fill="#2f7bc2"/>
<rect x="230.39" y="638.00" width="5.54" height="18.00" fill="#66c2a5"/>
<rect x="235.58" y="598.20" width="5.54" height="18.20" fill="#e41a1c"/>
<rect x="235.58" y="618.20" width="5.54" height="18.00" fill="#2f7bc2"/>
<rect x="235.58" y="638.00" width="5.54" height="18.00" fill="#fc8d62"/>
<rect x="240.78" y="598.20" width="5.54" height="18.20" fill="#e41a1c"/>
<rect x="240.78" y="618.20" width="5.54" height="18.00" fill="#2f7bc2"/>
<rect x="240.78" y="638.00" width="5.54" height="18.00" fill="#66c2a5"/>
<rect x="245.97" y="598.20" width="5.54" height="18.20" fill="#e41a1c"/>
<rect x="245.97" y="618.20" width="5.54" height="18.00" fill="#2f7bc2"/>
<rect x="245.97" y="638.00" width="5.54" height="18.00" fill="#fc8d62"/>
<rect x="251.17" y="598.20" width="5.54" height="18.20" fill="#4daf4a"/>
<rect x="251.17" y="618.20" width="5.54" height="18.00" fill="#2f7bc2"/>
<rect x="251.17" y="638.00" width="5.54" height="18.00" fill="#fc8d62"/>
<rect x="256.36" y="598.20" width="5.54" height="18.20" fill="#984ea3"/>
<rect x="256.36" y="618.20" width="5.54" height="18.00" fill="#bebebe"/>
<rect x="256.36" y="657.80" width="5.54" height="18.00" fill="#2f7bc2"/>
<rect x="261.56" y="598.20" width="5.54" height="18.20" fill="#984ea3"/>
<rect x="261.56" y="618.20" width="5.54" height="18.00" fill="#bebebe"/>
<rect x="261.56" y="657.80" width="5.54" height="18.00" fill="#2f7bc2"/>
<rect x="266.75" y="598.20" width="5.54" height="18.20" fill="#984ea3"/>
<rect x="266.75" y="618.20" width="5.54" height="18.00" fill="#2f7bc2"/>
<rect x="266.75" y="638.00" width="5.54" height="18.00" fill="#fc8d62"/>
<rect x="271.94" y="598.20" width="5.54" height="18.20" fill="#984ea3"/>
<rect x="271.94" y="618.20" width="5.54" height="18.00" fill="#2f7bc2"/>
<rect x="271.94" y="638.00" width="5.54" height="18.00" fill="#fc8d62"/>
<rect x="277.14" y="598.20" width="5.54" height="18.20" fill="#984ea3"/>
<rect x="277.14" y="618.20" width="5.54" height="18.00" fill="#bebebe"/>
<rect x="277.14" y="657.80" width="5.54" height="18.00" fill="#2f7bc2"/>
<rect x="282.34" y="598.20" width="5.54" height="18.20" fill="#984ea3"/>
<rect x="282.34" y="618.20" width="5.54" height="18.00" fill="#bebebe"/>
<rect x="282.34" y="657.80" width="5.54" height="18.00" fill="#2f7bc2"/>
<rect x="287.53" y="598.20" width="5.54" height="18.20" fill="#e41a1c"/>
<rect x="287.53" y="618.20" width="5.54" height="18.00" fill="#2f7bc2"/>
<rect x="287.53" y="638.00" width="5.54" height="18.00" fill="#66c2a5"/>
<rect x="292.73" y="598.20" width="5.54" height="18.20" fill="#377eb8"/>
<rect x="292.73" y="618.20" width="5.54" height="18.00" fill="#2f7bc2"/>
<rect x="292.73" y="638.00" width="5.54" height="18.00" fill="#fc8d62"/>
<rect x="297.92" y="598.20" width="5.54" height="18.20" fill="#e41a1c"/>
<rect x="297.92" y="618.20" width="5.54" height="18.00" fill="#2f7bc2"/>
<rect x="297.92" y="638.00" width="5.54" height="18.00" fill="#fc8d62"/>
<rect x="303.12" y="598.20" width="5.54" height="18.20" fill="#ff7f00"/>
<rect x="303.12" y="618.20" width="5.54" height="18.00" fill="#bebebe"/>
<rect x="303.12" y="657.80" width="5.54" height="18.00" fill="#2f7bc2"/>
<rect x="308.31" y="598.20" width="5.54" height="18.20" fill="#ff7f00"/>
<rect x="308.31" y="618.20" width="5.54" height="18.00" fill="#bebebe"/>
<rect x="308.31" y="657.80" width="5.54" height="18.00" fill="#2f7bc2"/>
<rect x="313.50" y="598.20" width="5.54" height="18.20" fill="#ff7f00"/>
<rect x="313.50" y="618.20" width="5.54" height="18.00" fill="#bebebe"/>
<rect x="313.50" y="657.80" width="5.54" height="18.00" fill="#2f7bc2"/>
<rect x="318.70" y="598.20" width="5.54" height="18.20" fill="#ff7f00"/>
<rect x="318.70" y="618.20" width="5.54" height="18.00" fill="#bebebe"/>
<rect x="318.70" y="657.80" width="5.54" height="18.00" fill="#2f7bc2"/>
<rect x="323.90" y="598.20" width="5.54" height="18.20" fill="#ff7f00"/>
<rect x="323.90" y="618.20" width="5.54" height="18.00" fill="#bebebe"/>
<rect x="323.90" y="657.80" width="5.54" height="18.00" fill="#2f7bc2"/>
<rect x="329.09" y="598.20" width="5.54" height="18.20" fill="#ff7f00"/>
<rect x="329.09" y="618.20" width="5.54" height="18.00" fill="#bebebe"/>
<rect x="329.09" y="657.80" width="5.54" height="18.00" fill="#2f7bc2"/>
<rect x="334.29" y="598.20" width="5.54" height="18.20" fill="#ff7f00"/>
<rect x="334.29" y="618.20" width="5.54" height="18.00" fill="#bebebe"/>
<rect x="334.29" y="657.80" width="5.54" height="18.00" fill="#2f7bc2"/>
<rect x="7.00" y="679.50" width="5.54" height="29.80" fill="#7a4efd"/>
<rect x="12.20" y="679.50" width="5.54" height="29.80" fill="#8a5efc"/>
<rect x="17.39" y="679.50" width="5.54" height="29.80" fill="#8a5efc"/>
<rect x="22.59" y="679.50" width="5.54" height="29.80" fill="#b38ef9"/>
<rect x="27.78" y="679.50" width="5.54" height="29.80" fill="#7a4efd"/>
<rect x="32.98" y="679.50" width="5.54" height="29.80" fill="#9469fb"/>
<rect x="38.17" y="679.50" width="5.54" height="29.80" fill="#9d74fb"/>
<rect x="43.37" y="679.50" width="5.54" height="29.80" fill="#9d74fb"/>
<rect x="48.56" y="679.50" width="5.54" height="29.80" fill="#b38ef9"/>
<rect x="53.76" y="679.50" width="5.54" height="29.80" fill="#aa83fa"/>
<rect x="58.95" y="679.50" width="5.54" height="29.80" fill="#a67efa"/>
<rect x="64.15" y="679.50" width="5.54" height="29.80" fill="#ba99f8"/>
<rect x="69.34" y="679.50" width="5.54" height="29.80" fill="#be9ef7"/>
<rect x="74.53" y="679.50" width="5.54" height="29.80" fill="#c5a8f6"/>
<rect x="79.73" y="679.50" width="5.54" height="29.80" fill="#be9ef7"/>
<rect x="84.93" y="679.50" width="5.54" height="29.80" fill="#ccb3f5"/>
<rect x="90.12" y="679.50" width="5.54" height="29.80" fill="#d9c8f3"/>
<rect x="95.31" y="679.50" width="5.54" height="29.80" fill="#e5def0"/>
<rect x="100.51" y="679.50" width="5.54" height="29.80" fill="#dfd3f2"/>
<rect x="105.71" y="679.50" width="5.54" height="29.80" fill="#dccef2"/>
<rect x="110.90" y="679.50" width="5.54" height="29.80" fill="#c5a8f6"/>
<rect x="116.09" y="679.50" width="5.54" height="29.80" fill="#dccef2"/>
<rect x="121.29" y="679.50" width="5.54" height="29.80" fill="#e8e3f0"/>
<rect x="126.49" y="679.50" width="5.54" height="29.80" fill="#ff9f85"/>
<rect x="131.68" y="679.50" width="5.54" height="29.80" fill="#dfd3f2"/>
<rect x="136.88" y="679.50" width="5.54" height="29.80" fill="#dccef2"/>
<rect x="142.07" y="679.50" width="5.54" height="29.80" fill="#e2d8f1"/>
<rect x="147.27" y="679.50" width="5.54" height="29.80" fill="#f5e1dc"/>
<rect x="152.46" y="679.50" width="5.54" height="29.80" fill="#f5e1dc"/>
<rect x="157.66" y="679.50" width="5.54" height="29.80" fill="#d3bef4"/>
<rect x="162.85" y="679.50" width="5.54" height="29.80" fill="#f3e5e2"/>
<rect x="168.05" y="679.50" width="5.54" height="29.80" fill="#e5def0"/>
<rect x="173.24" y="679.50" width="5.54" height="29.80" fill="#e8e3f0"/>
<rect x="178.44" y="679.50" width="5.54" height="29.80" fill="#eeeeee"/>
<rect x="183.63" y="679.50" width="5.54" height="29.80" fill="#f1eae8"/>
<rect x="188.83" y="679.50" width="5.54" height="29.80" fill="#f1eae8"/>
<rect x="194.02" y="679.50" width="5.54" height="29.80" fill="#f9d9d0"/>
<rect x="199.22" y="679.50" width="5.54" height="29.80" fill="#f9d9d0"/>
<rect x="204.41" y="679.50" width="5.54" height="29.80" fill="#fbd4ca"/>
<rect x="209.61" y="679.50" width="5.54" height="29.80" fill="#fdd0c4"/>
<rect x="214.80" y="679.50" width="5.54" height="29.80" fill="#f9d9d0"/>
<rect x="220.00" y="679.50" width="5.54" height="29.80" fill="#f9d9d0"/>
<rect x="225.19" y="679.50" width="5.54" height="29.80" fill="#fbd4ca"/>
<rect x="230.39" y="679.50" width="5.54" height="29.80" fill="#fdd0c4"/>
<rect x="235.58" y="679.50" width="5.54" height="29.80" fill="#fdd0c4"/>
<rect x="240.78" y="679.50" width="5.54" height="29.80" fill="#feccbe"/>
<rect x="245.97" y="679.50" width="5.54" height="29.80" fill="#ffc7b8"/>
<rect x="251.17" y="679.50" width="5.54" height="29.80" fill="#ffc7b8"/>
<rect x="256.36" y="679.50" width="5.54" height="29.80" fill="#ffc3b3"/>
<rect x="261.56" y="679.50" width="5.54" height="29.80" fill="#ffbaa7"/>
<rect x="266.75" y="679.50" width="5.54" height="29.80" fill="#ffbead"/>
<rect x="271.94" y="679.50" width="5.54" height="29.80" fill="#ffc3b3"/>
<rect x="277.14" y="679.50" width="5.54" height="29.80" fill="#ffbead"/>
<rect x="282.34" y="679.50" width="5.54" height="29.80" fill="#ffc7b8"/>
<rect x="287.53" y="679.50" width="5.54" height="29.80" fill="#ffbaa7"/>
<rect x="292.73" y="679.50" width="5.54" height="29.80" fill="#ffb6a1"/>
<rect x="297.92" y="679.50" width="5.54" height="29.80" fill="#ffb19c"/>
<rect x="303.12" y="679.50" width="5.54" height="29.80" fill="#ffb19c"/>
<rect x="308.31" y="679.50" width="5.54" height="29.80" fill="#ffad96"/>
<rect x="313.50" y="679.50" width="5.54" height="29.80" fill="#ff9174"/>
<rect x="318.70" y="679.50" width="5.54" height="29.80" fill="#ff9174"/>
<rect x="323.90" y="679.50" width="5.54" height="29.80" fill="#ff8c6f"/>
<rect x="329.09" y="679.50" width="5.54" height="29.80" fill="#ff8869"/>
<rect x="334.29" y="679.50" width="5.54" height="29.80" fill="#ff7e5e"/>
<rect x="7.00" y="709.00" width="5.54" height="29.80" fill="#d6c3f4"/>
<rect x="12.20" y="709.00" width="5.54" height="29.80" fill="#e5def0"/>
<rect x="17.39" y="709.00" width="5.54" height="29.80" fill="#f7ddd6"/>
<rect x="22.59" y="709.00" width="5.54" height="29.80" fill="#c5a8f6"/>
<rect x="27.78" y="709.00" width="5.54" height="29.80" fill="#ffb6a1"/>
<rect x="32.98" y="709.00" width="5.54" height="29.80" fill="#ff967a"/>
<rect x="38.17" y="709.00" width="5.54" height="29.80" fill="#ffa890"/>
<rect x="43.37" y="709.00" width="5.54" height="29.80" fill="#f1eae8"/>
<rect x="48.56" y="709.00" width="5.54" height="29.80" fill="#f9d9d0"/>
<rect x="53.76" y="709.00" width="5.54" height="29.80" fill="#f9d9d0"/>
<rect x="58.95" y="709.00" width="5.54" height="29.80" fill="#fbd4ca"/>
<rect x="64.15" y="709.00" width="5.54" height="29.80" fill="#feccbe"/>
<rect x="69.34" y="709.00" width="5.54" height="29.80" fill="#f9d9d0"/>
<rect x="74.53" y="709.00" width="5.54" height="29.80" fill="#e8e3f0"/>
<rect x="79.73" y="709.00" width="5.54" height="29.80" fill="#e8e3f0"/>
<rect x="84.93" y="709.00" width="5.54" height="29.80" fill="#ff9b7f"/>
<rect x="90.12" y="709.00" width="5.54" height="29.80" fill="#fbd4ca"/>
<rect x="95.31" y="709.00" width="5.54" height="29.80" fill="#fdd0c4"/>
<rect x="100.51" y="709.00" width="5.54" height="29.80" fill="#feccbe"/>
<rect x="105.71" y="709.00" width="5.54" height="29.80" fill="#ffbaa7"/>
<rect x="110.90" y="709.00" width="5.54" height="29.80" fill="#ff7453"/>
<rect x="116.09" y="709.00" width="5.54" height="29.80" fill="#ff7453"/>
<rect x="121.29" y="709.00" width="5.54" height="29.80" fill="#0000ff"/>
<rect x="126.49" y="709.00" width="5.54" height="29.80" fill="#0000ff"/>
<rect x="131.68" y="709.00" width="5.54" height="29.80" fill="#e8e3f0"/>
<rect x="136.88" y="709.00" width="5.54" height="29.80" fill="#dfd3f2"/>
<rect x="142.07" y="709.00" width="5.54" height="29.80" fill="#f9d9d0"/>
<rect x="147.27" y="709.00" width="5.54" height="29.80" fill="#c5a8f6"/>
<rect x="152.46" y="709.00" width="5.54" height="29.80" fill="#e2d8f1"/>
<rect x="157.66" y="709.00" width="5.54" height="29.80" fill="#e2d8f1"/>
<rect x="162.85" y="709.00" width="5.54" height="29.80" fill="#ffc3b3"/>
<rect x="168.05" y="709.00" width="5.54" height="29.80" fill="#ffc5b6"/>
<rect x="173.24" y="709.00" width="5.54" height="29.80" fill="#ffc3b3"/>
<rect x="178.44" y="709.00" width="5.54" height="29.80" fill="#ffbaa7"/>
<rect x="183.63" y="709.00" width="5.54" height="29.80" fill="#ffbaa7"/>
<rect x="188.83" y="709.00" width="5.54" height="29.80" fill="#ffad96"/>
<rect x="194.02" y="709.00" width="5.54" height="29.80" fill="#ffb6a1"/>
<rect x="199.22" y="709.00" width="5.54" height="29.80" fill="#f1eae8"/>
<rect x="204.41" y="709.00" width="5.54" height="29.80" fill="#feccbe"/>
<rect x="209.61" y="709.00" width="5.54" height="29.80" fill="#f7ddd6"/>
<rect x="214.80" y="709.00" width="5.54" height="29.80" fill="#f1eae8"/>
<rect x="220.00" y="709.00" width="5.54" height="29.80" fill="#fbd4ca"/>
<rect x="225.19" y="709.00" width="5.54" height="29.80" fill="#f3e5e2"/>
<rect x="230.39" y="709.00" width="5.54" height="29.80" fill="#f3e5e2"/>
<rect x="235.58" y="709.00" width="5.54" height="29.80" fill="#f7ddd6"/>
<rect x="240.78" y="709.00" width="5.54" height="29.80" fill="#f3e5e2"/>
<rect x="245.97" y="709.00" width="5.54" height="29.80" fill="#e8e3f0"/>
<rect x="251.17" y="709.00" width="5.54" height="29.80" fill="#e7e0f0"/>
<rect x="256.36" y="709.00" width="5.54" height="29.80" fill="#b693f8"/>
<rect x="261.56" y="709.00" width="5.54" height="29.80" fill="#aa83fa"/>
<rect x="266.75" y="709.00" width="5.54" height="29.80" fill="#aa83fa"/>
<rect x="271.94" y="709.00" width="5.54" height="29.80" fill="#dfd3f2"/>
<rect x="277.14" y="709.00" width="5.54" height="29.80" fill="#c9aef6"/>
<rect x="282.34" y="709.00" width="5.54" height="29.80" fill="#ccb3f5"/>
<rect x="287.53" y="709.00" width="5.54" height="29.80" fill="#d6c3f4"/>
<rect x="292.73" y="709.00" width="5.54" height="29.80" fill="#c9aef6"/>
<rect x="297.92" y="709.00" width="5.54" height="29.80" fill="#eeeeee"/>
<rect x="303.12" y="709.00" width="5.54" height="29.80" fill="#f1eae8"/>
<rect x="308.31" y="709.00" width="5.54" height="29.80" fill="#eeeeee"/>
<rect x="313.50" y="709.00" width="5.54" height="29.80" fill="#c9aef6"/>
<rect x="318.70" y="709.00" width="5.54" height="29.80" fill="#dccef2"/>
<rect x="323.90" y="709.00" width="5.54" height="29.80" fill="#cfb8f5"/>
<rect x="329.09" y="709.00" width="5.54" height="29.80" fill="#af89f9"/>
<rect x="334.29" y="709.00" width="5.54" height="29.80" fill="#af89f9"/>
<rect x="7.00" y="738.50" width="5.54" height="29.80" fill="#ff8364"/>
<rect x="12.20" y="738.50" width="5.54" height="29.80" fill="#ff9b7f"/>
<rect x="17.39" y="738.50" width="5.54" height="29.80" fill="#ff9b7f"/>
<rect x="22.59" y="738.50" width="5.54" height="29.80" fill="#ff9b7f"/>
<rect x="27.78" y="738.50" width="5.54" height="29.80" fill="#ff8364"/>
<rect x="32.98" y="738.50" width="5.54" height="29.80" fill="#ff9174"/>
<rect x="38.17" y="738.50" width="5.54" height="29.80" fill="#ff967a"/>
<rect x="43.37" y="738.50" width="5.54" height="29.80" fill="#ff967a"/>
<rect x="48.56" y="738.50" width="5.54" height="29.80" fill="#ffb6a1"/>
<rect x="53.76" y="738.50" width="5.54" height="29.80" fill="#ff9b7f"/>
<rect x="58.95" y="738.50" width="5.54" height="29.80" fill="#ff9b7f"/>
<rect x="64.15" y="738.50" width="5.54" height="29.80" fill="#ffb6a1"/>
<rect x="69.34" y="738.50" width="5.54" height="29.80" fill="#ffb19c"/>
<rect x="74.53" y="738.50" width="5.54" height="29.80" fill="#ffad96"/>
<rect x="79.73" y="738.50" width="5.54" height="29.80" fill="#ffb19c"/>
<rect x="84.93" y="738.50" width="5.54" height="29.80" fill="#fbd4ca"/>
<rect x="90.12" y="738.50" width="5.54" height="29.80" fill="#ffc7b8"/>
<rect x="95.31" y="738.50" width="5.54" height="29.80" fill="#ebe9ef"/>
<rect x="100.51" y="738.50" width="5.54" height="29.80" fill="#f7ddd6"/>
<rect x="105.71" y="738.50" width="5.54" height="29.80" fill="#f7ddd6"/>
<rect x="110.90" y="738.50" width="5.54" height="29.80" fill="#f7ddd6"/>
<rect x="116.09" y="738.50" width="5.54" height="29.80" fill="#eeeeee"/>
<rect x="121.29" y="738.50" width="5.54" height="29.80" fill="#ff8869"/>
<rect x="126.49" y="738.50" width="5.54" height="29.80" fill="#e5def0"/>
<rect x="131.68" y="738.50" width="5.54" height="29.80" fill="#fbd4ca"/>
<rect x="136.88" y="738.50" width="5.54" height="29.80" fill="#fbd4ca"/>
<rect x="142.07" y="738.50" width="5.54" height="29.80" fill="#eeeeee"/>
<rect x="147.27" y="738.50" width="5.54" height="29.80" fill="#f7ddd6"/>
<rect x="152.46" y="738.50" width="5.54" height="29.80" fill="#f9d9d0"/>
<rect x="157.66" y="738.50" width="5.54" height="29.80" fill="#ffb19c"/>
<rect x="162.85" y="738.50" width="5.54" height="29.80" fill="#e8e3f0"/>
<rect x="168.05" y="738.50" width="5.54" height="29.80" fill="#ebe9ef"/>
<rect x="173.24" y="738.50" width="5.54" height="29.80" fill="#eeeeee"/>
<rect x="178.44" y="738.50" width="5.54" height="29.80" fill="#dfd3f2"/>
<rect x="183.63" y="738.50" width="5.54" height="29.80" fill="#e2d8f1"/>
<rect x="188.83" y="738.50" width="5.54" height="29.80" fill="#dfd3f2"/>
<rect x="194.02" y="738.50" width="5.54" height="29.80" fill="#ccb3f5"/>
<rect x="199.22" y="738.50" width="5.54" height="29.80" fill="#ccb3f5"/>
<rect x="204.41" y="738.50" width="5.54" height="29.80" fill="#c5a8f6"/>
<rect x="209.61" y="738.50" width="5.54" height="29.80" fill="#ccb3f5"/>
<rect x="214.80" y="738.50" width="5.54" height="29.80" fill="#ebe9ef"/>
<rect x="220.00" y="738.50" width="5.54" height="29.80" fill="#d6c3f4"/>
<rect x="225.19" y="738.50" width="5.54" height="29.80" fill="#d6c3f4"/>
<rect x="230.39" y="738.50" width="5.54" height="29.80" fill="#dccef2"/>
<rect x="235.58" y="738.50" width="5.54" height="29.80" fill="#c9aef6"/>
<rect x="240.78" y="738.50" width="5.54" height="29.80" fill="#c5a8f6"/>
<rect x="245.97" y="738.50" width="5.54" height="29.80" fill="#ccb3f5"/>
<rect x="251.17" y="738.50" width="5.54" height="29.80" fill="#ceb6f5"/>
<rect x="256.36" y="738.50" width="5.54" height="29.80" fill="#cfb8f5"/>
<rect x="261.56" y="738.50" width="5.54" height="29.80" fill="#cfb8f5"/>
<rect x="266.75" y="738.50" width="5.54" height="29.80" fill="#c5a8f6"/>
<rect x="271.94" y="738.50" width="5.54" height="29.80" fill="#be9ef7"/>
<rect x="277.14" y="738.50" width="5.54" height="29.80" fill="#ba99f8"/>
<rect x="282.34" y="738.50" width="5.54" height="29.80" fill="#dccef2"/>
<rect x="287.53" y="738.50" width="5.54" height="29.80" fill="#c5a8f6"/>
<rect x="292.73" y="738.50" width="5.54" height="29.80" fill="#c9aef6"/>
<rect x="297.92" y="738.50" width="5.54" height="29.80" fill="#a67efa"/>
<rect x="303.12" y="738.50" width="5.54" height="29.80" fill="#af89f9"/>
<rect x="308.31" y="738.50" width="5.54" height="29.80" fill="#b38ef9"/>
<rect x="313.50" y="738.50" width="5.54" height="29.80" fill="#9d74fb"/>
<rect x="318.70" y="738.50" width="5.54" height="29.80" fill="#8f64fc"/>
<rect x="323.90" y="738.50" width="5.54" height="29.80" fill="#a67efa"/>
<rect x="329.09" y="738.50" width="5.54" height="29.80" fill="#a67efa"/>
<rect x="334.29" y="738.50" width="5.54" height="29.80" fill="#aa83fa"/>
<rect x="7.00" y="768.00" width="5.54" height="29.80" fill="#ff5132"/>
<rect x="12.20" y="768.00" width="5.54" height="29.80" fill="#ff6e4e"/>
<rect x="17.39" y="768.00" width="5.54" height="29.80" fill="#ff6e4e"/>
<rect x="22.59" y="768.00" width="5.54" height="29.80" fill="#ff7e5e"/>
<rect x="27.78" y="768.00" width="5.54" height="29.80" fill="#ff967a"/>
<rect x="32.98" y="768.00" width="5.54" height="29.80" fill="#feccbe"/>
<rect x="38.17" y="768.00" width="5.54" height="29.80" fill="#ffb6a1"/>
<rect x="43.37" y="768.00" width="5.54" height="29.80" fill="#ffa890"/>
<rect x="48.56" y="768.00" width="5.54" height="29.80" fill="#ffa890"/>
<rect x="53.76" y="768.00" width="5.54" height="29.80" fill="#ffbaa7"/>
<rect x="58.95" y="768.00" width="5.54" height="29.80" fill="#ff9f85"/>
<rect x="64.15" y="768.00" width="5.54" height="29.80" fill="#ffbaa7"/>
<rect x="69.34" y="768.00" width="5.54" height="29.80" fill="#ffb6a1"/>
<rect x="74.53" y="768.00" width="5.54" height="29.80" fill="#ffb6a1"/>
<rect x="79.73" y="768.00" width="5.54" height="29.80" fill="#ffbead"/>
<rect x="84.93" y="768.00" width="5.54" height="29.80" fill="#eeeeee"/>
<rect x="90.12" y="768.00" width="5.54" height="29.80" fill="#ebe9ef"/>
<rect x="95.31" y="768.00" width="5.54" height="29.80" fill="#f1eae8"/>
<rect x="100.51" y="768.00" width="5.54" height="29.80" fill="#f1eae8"/>
<rect x="105.71" y="768.00" width="5.54" height="29.80" fill="#dccef2"/>
<rect x="110.90" y="768.00" width="5.54" height="29.80" fill="#e8e3f0"/>
<rect x="116.09" y="768.00" width="5.54" height="29.80" fill="#d6c3f4"/>
<rect x="121.29" y="768.00" width="5.54" height="29.80" fill="#ff6e4e"/>
<rect x="126.49" y="768.00" width="5.54" height="29.80" fill="#eeeeee"/>
<rect x="131.68" y="768.00" width="5.54" height="29.80" fill="#ffc7b8"/>
<rect x="136.88" y="768.00" width="5.54" height="29.80" fill="#ffc7b8"/>
<rect x="142.07" y="768.00" width="5.54" height="29.80" fill="#fdd0c4"/>
<rect x="147.27" y="768.00" width="5.54" height="29.80" fill="#fdd0c4"/>
<rect x="152.46" y="768.00" width="5.54" height="29.80" fill="#dccef2"/>
<rect x="157.66" y="768.00" width="5.54" height="29.80" fill="#ffb6a1"/>
<rect x="162.85" y="768.00" width="5.54" height="29.80" fill="#d3bef4"/>
<rect x="168.05" y="768.00" width="5.54" height="29.80" fill="#dfd3f2"/>
<rect x="173.24" y="768.00" width="5.54" height="29.80" fill="#dccef2"/>
<rect x="178.44" y="768.00" width="5.54" height="29.80" fill="#d9c8f3"/>
<rect x="183.63" y="768.00" width="5.54" height="29.80" fill="#d3bef4"/>
<rect x="188.83" y="768.00" width="5.54" height="29.80" fill="#cfb8f5"/>
<rect x="194.02" y="768.00" width="5.54" height="29.80" fill="#c5a8f6"/>
<rect x="199.22" y="768.00" width="5.54" height="29.80" fill="#f3e5e2"/>
<rect x="204.41" y="768.00" width="5.54" height="29.80" fill="#dfd3f2"/>
<rect x="209.61" y="768.00" width="5.54" height="29.80" fill="#d6c3f4"/>
<rect x="214.80" y="768.00" width="5.54" height="29.80" fill="#cfb8f5"/>
<rect x="220.00" y="768.00" width="5.54" height="29.80" fill="#ccb3f5"/>
<rect x="225.19" y="768.00" width="5.54" height="29.80" fill="#d3bef4"/>
<rect x="230.39" y="768.00" width="5.54" height="29.80" fill="#c5a8f6"/>
<rect x="235.58" y="768.00" width="5.54" height="29.80" fill="#c2a3f7"/>
<rect x="240.78" y="768.00" width="5.54" height="29.80" fill="#ccb3f5"/>
<rect x="245.97" y="768.00" width="5.54" height="29.80" fill="#cfb8f5"/>
<rect x="251.17" y="768.00" width="5.54" height="29.80" fill="#d4c0f4"/>
<rect x="256.36" y="768.00" width="5.54" height="29.80" fill="#eeeeee"/>
<rect x="261.56" y="768.00" width="5.54" height="29.80" fill="#e5def0"/>
<rect x="266.75" y="768.00" width="5.54" height="29.80" fill="#e5def0"/>
<rect x="271.94" y="768.00" width="5.54" height="29.80" fill="#dccef2"/>
<rect x="277.14" y="768.00" width="5.54" height="29.80" fill="#d6c3f4"/>
<rect x="282.34" y="768.00" width="5.54" height="29.80" fill="#cfb8f5"/>
<rect x="287.53" y="768.00" width="5.54" height="29.80" fill="#c5a8f6"/>
<rect x="292.73" y="768.00" width="5.54" height="29.80" fill="#c5a8f6"/>
<rect x="297.92" y="768.00" width="5.54" height="29.80" fill="#cfb8f5"/>
<rect x="303.12" y="768.00" width="5.54" height="29.80" fill="#ccb3f5"/>
<rect x="308.31" y="768.00" width="5.54" height="29.80" fill="#af89f9"/>
<rect x="313.50" y="768.00" width="5.54" height="29.80" fill="#af89f9"/>
<rect x="318.70" y="768.00" width="5.54" height="29.80" fill="#af89f9"/>
<rect x="323.90" y="768.00" width="5.54" height="29.80" fill="#8f64fc"/>
<rect x="329.09" y="768.00" width="5.54" height="29.80" fill="#aa83fa"/>
<rect x="334.29" y="768.00" width="5.54" height="29.80" fill="#aa83fa"/>
<rect x="7.00" y="797.50" width="5.54" height="30.30" fill="#ff0000"/>
<rect x="12.20" y="797.50" width="5.54" height="30.30" fill="#ff0000"/>
<rect x="17.39" y="797.50" width="5.54" height="30.30" fill="#ff6e4e"/>
<rect x="22.59" y="797.50" width="5.54" height="30.30" fill="#ff6e4e"/>
<rect x="27.78" y="797.50" width="5.54" height="30.30" fill="#ffc3b3"/>
<rect x="32.98" y="797.50" width="5.54" height="30.30" fill="#fbd4ca"/>
<rect x="38.17" y="797.50" width="5.54" height="30.30" fill="#d9c8f3"/>
<rect x="43.37" y="797.50" width="5.54" height="30.30" fill="#ffa48a"/>
<rect x="48.56" y="797.50" width="5.54" height="30.30" fill="#ff967a"/>
<rect x="53.76" y="797.50" width="5.54" height="30.30" fill="#ff9f85"/>
<rect x="58.95" y="797.50" width="5.54" height="30.30" fill="#fdd0c4"/>
<rect x="64.15" y="797.50" width="5.54" height="30.30" fill="#fbd4ca"/>
<rect x="69.34" y="797.50" width="5.54" height="30.30" fill="#ffc3b3"/>
<rect x="74.53" y="797.50" width="5.54" height="30.30" fill="#ffc3b3"/>
<rect x="79.73" y="797.50" width="5.54" height="30.30" fill="#ffbead"/>
<rect x="84.93" y="797.50" width="5.54" height="30.30" fill="#feccbe"/>
<rect x="90.12" y="797.50" width="5.54" height="30.30" fill="#feccbe"/>
<rect x="95.31" y="797.50" width="5.54" height="30.30" fill="#f5e1dc"/>
<rect x="100.51" y="797.50" width="5.54" height="30.30" fill="#f1eae8"/>
<rect x="105.71" y="797.50" width="5.54" height="30.30" fill="#f5e1dc"/>
<rect x="110.90" y="797.50" width="5.54" height="30.30" fill="#e8e3f0"/>
<rect x="116.09" y="797.50" width="5.54" height="30.30" fill="#dfd3f2"/>
<rect x="121.29" y="797.50" width="5.54" height="30.30" fill="#ffb6a1"/>
<rect x="126.49" y="797.50" width="5.54" height="30.30" fill="#e5def0"/>
<rect x="131.68" y="797.50" width="5.54" height="30.30" fill="#fdd0c4"/>
<rect x="136.88" y="797.50" width="5.54" height="30.30" fill="#fdd0c4"/>
<rect x="142.07" y="797.50" width="5.54" height="30.30" fill="#f9d9d0"/>
<rect x="147.27" y="797.50" width="5.54" height="30.30" fill="#f1eae8"/>
<rect x="152.46" y="797.50" width="5.54" height="30.30" fill="#ebe9ef"/>
<rect x="157.66" y="797.50" width="5.54" height="30.30" fill="#ba99f8"/>
<rect x="162.85" y="797.50" width="5.54" height="30.30" fill="#f7ddd6"/>
<rect x="168.05" y="797.50" width="5.54" height="30.30" fill="#dfd3f2"/>
<rect x="173.24" y="797.50" width="5.54" height="30.30" fill="#d6c3f4"/>
<rect x="178.44" y="797.50" width="5.54" height="30.30" fill="#e2d8f1"/>
<rect x="183.63" y="797.50" width="5.54" height="30.30" fill="#d3bef4"/>
<rect x="188.83" y="797.50" width="5.54" height="30.30" fill="#c2a3f7"/>
<rect x="194.02" y="797.50" width="5.54" height="30.30" fill="#dccef2"/>
<rect x="199.22" y="797.50" width="5.54" height="30.30" fill="#dfd3f2"/>
<rect x="204.41" y="797.50" width="5.54" height="30.30" fill="#e2d8f1"/>
<rect x="209.61" y="797.50" width="5.54" height="30.30" fill="#e8e3f0"/>
<rect x="214.80" y="797.50" width="5.54" height="30.30" fill="#d3bef4"/>
<rect x="220.00" y="797.50" width="5.54" height="30.30" fill="#d3bef4"/>
<rect x="225.19" y="797.50" width="5.54" height="30.30" fill="#cfb8f5"/>
<rect x="230.39" y="797.50" width="5.54" height="30.30" fill="#c5a8f6"/>
<rect x="235.58" y="797.50" width="5.54" height="30.30" fill="#d9c8f3"/>
<rect x="240.78" y="797.50" width="5.54" height="30.30" fill="#d6c3f4"/>
<rect x="245.97" y="797.50" width="5.54" height="30.30" fill="#ccb3f5"/>
<rect x="251.17" y="797.50" width="5.54" height="30.30" fill="#d4c0f4"/>
<rect x="256.36" y="797.50" width="5.54" height="30.30" fill="#e5def0"/>
<rect x="261.56" y="797.50" width="5.54" height="30.30" fill="#eeeeee"/>
<rect x="266.75" y="797.50" width="5.54" height="30.30" fill="#e8e3f0"/>
<rect x="271.94" y="797.50" width="5.54" height="30.30" fill="#dccef2"/>
<rect x="277.14" y="797.50" width="5.54" height="30.30" fill="#d9c8f3"/>
<rect x="282.34" y="797.50" width="5.54" height="30.30" fill="#d6c3f4"/>
<rect x="287.53" y="797.50" width="5.54" height="30.30" fill="#c9aef6"/>
<rect x="292.73" y="797.50" width="5.54" height="30.30" fill="#ccb3f5"/>
<rect x="297.92" y="797.50" width="5.54" height="30.30" fill="#c9aef6"/>
<rect x="303.12" y="797.50" width="5.54" height="30.30" fill="#b693f8"/>
<rect x="308.31" y="797.50" width="5.54" height="30.30" fill="#b38ef9"/>
<rect x="313.50" y="797.50" width="5.54" height="30.30" fill="#b38ef9"/>
<rect x="318.70" y="797.50" width="5.54" height="30.30" fill="#b38ef9"/>
<rect x="323.90" y="797.50" width="5.54" height="30.30" fill="#af89f9"/>
<rect x="329.09" y="797.50" width="5.54" height="30.30" fill="#b693f8"/>
<rect x="334.29" y="797.50" width="5.54" height="30.30" fill="#af89f9"/>
<path d="M9.6,597.8L9.6,592.2M14.8,597.8L14.8,592.2M9.6,592.2L14.8,592.2M20.0,597.8L20.0,590.0M25.2,597.8L25.2,590.0M20.0,590.0L25.2,590.0M12.2,592.2L12.2,588.0M22.6,590.0L22.6,588.0M12.2,588.0L22.6,588.0M35.6,597.8L35.6,590.6M40.8,597.8L40.8,590.6M35.6,590.6L40.8,590.6M30.4,597.8L30.4,587.2M38.2,590.6L38.2,587.2M30.4,587.2L38.2,587.2M51.2,597.8L51.2,593.2M56.4,597.8L56.4,593.2M51.2,593.2L56.4,593.2M46.0,597.8L46.0,592.3M53.8,593.2L53.8,592.3M46.0,592.3L53.8,592.3M61.5,597.8L61.5,593.0M66.7,597.8L66.7,593.0M61.5,593.0L66.7,593.0M71.9,597.8L71.9,592.5M77.1,597.8L77.1,592.5M71.9,592.5L77.1,592.5M64.1,593.0L64.1,591.5M74.5,592.5L74.5,591.5M64.1,591.5L74.5,591.5M49.9,592.3L49.9,589.6M69.3,591.5L69.3,589.6M49.9,589.6L69.3,589.6M34.3,587.2L34.3,584.9M59.6,589.6L59.6,584.9M34.3,584.9L59.6,584.9M87.5,597.8L87.5,593.5M92.7,597.8L92.7,593.5M87.5,593.5L92.7,593.5M82.3,597.8L82.3,592.2M90.1,593.5L90.1,592.2M82.3,592.2L90.1,592.2M103.1,597.8L103.1,593.4M108.3,597.8L108.3,593.4M103.1,593.4L108.3,593.4M97.9,597.8L97.9,592.4M105.7,593.4L105.7,592.4M97.9,592.4L105.7,592.4M86.2,592.2L86.2,590.8M101.8,592.4L101.8,590.8M86.2,590.8L101.8,590.8M113.5,597.8L113.5,592.0M118.7,597.8L118.7,592.0M113.5,592.0L118.7,592.0M94.0,590.8L94.0,587.8M116.1,592.0L116.1,587.8M94.0,587.8L116.1,587.8M46.9,584.9L46.9,579.6M105.1,587.8L105.1,579.6M46.9,579.6L105.1,579.6M17.4,588.0L17.4,569.4M76.0,579.6L76.0,569.4M17.4,569.4L76.0,569.4M123.9,597.8L123.9,581.1M129.1,597.8L129.1,581.1M123.9,581.1L129.1,581.1M134.3,597.8L134.3,594.7M139.5,597.8L139.5,594.7M134.3,594.7L139.5,594.7M144.7,597.8L144.7,593.2M149.9,597.8L149.9,593.2M144.7,593.2L149.9,593.2M147.3,593.2L147.3,591.5M155.1,597.8L155.1,591.5M147.3,591.5L155.1,591.5M136.9,594.7L136.9,589.5M151.2,591.5L151.2,589.5M136.9,589.5L151.2,589.5M144.0,589.5L144.0,587.2M160.3,597.8L160.3,587.2M144.0,587.2L160.3,587.2M165.4,597.8L165.4,593.0M170.6,597.8L170.6,593.0M165.4,593.0L170.6,593.0M175.8,597.8L175.8,593.5M181.0,597.8L181.0,593.5M175.8,593.5L181.0,593.5M168.0,593.0L168.0,591.5M178.4,593.5L178.4,591.5M168.0,591.5L178.4,591.5M186.2,597.8L186.2,593.0M191.4,597.8L191.4,593.0M186.2,593.0L191.4,593.0M188.8,593.0L188.8,592.2M196.6,597.8L196.6,592.2M188.8,592.2L196.6,592.2M173.2,591.5L173.2,590.8M192.7,592.2L192.7,590.8M173.2,590.8L192.7,590.8M207.0,597.8L207.0,593.5M212.2,597.8L212.2,593.5M207.0,593.5L212.2,593.5M201.8,597.8L201.8,592.6M209.6,593.5L209.6,592.6M201.8,592.6L209.6,592.6M217.4,597.8L217.4,593.0M222.6,597.8L222.6,593.0M217.4,593.0L222.6,593.0M227.8,597.8L227.8,594.0M233.0,597.8L233.0,594.0M227.8,594.0L233.0,594.0M220.0,593.0L220.0,592.4M230.4,594.0L230.4,592.4M220.0,592.4L230.4,592.4M238.2,597.8L238.2,593.8M243.4,597.8L243.4,593.8M238.2,593.8L243.4,593.8M248.6,597.8L248.6,594.2M253.8,597.8L253.8,594.2M248.6,594.2L253.8,594.2M240.8,593.8L240.8,593.0M251.2,594.2L251.2,593.0M240.8,593.0L251.2,593.0M225.2,592.4L225.2,591.6M246.0,593.0L246.0,591.6M225.2,591.6L246.0,591.6M205.7,592.6L205.7,591.0M235.6,591.6L235.6,591.0M205.7,591.0L235.6,591.0M183.0,590.8L183.0,589.8M220.6,591.0L220.6,589.8M183.0,589.8L220.6,589.8M259.0,597.8L259.0,594.5M264.2,597.8L264.2,594.5M259.0,594.5L264.2,594.5M261.6,594.5L261.6,592.6M269.3,597.8L269.3,592.6M261.6,592.6L269.3,592.6M274.5,597.8L274.5,593.2M279.7,597.8L279.7,593.2M274.5,593.2L279.7,593.2M290.1,597.8L290.1,594.4M295.3,597.8L295.3,594.4M290.1,594.4L295.3,594.4M284.9,597.8L284.9,593.2M292.7,594.4L292.7,593.2M284.9,593.2L292.7,593.2M277.1,593.2L277.1,591.8M288.8,593.2L288.8,591.8M277.1,591.8L288.8,591.8M265.5,592.6L265.5,590.6M283.0,591.8L283.0,590.6M265.5,590.6L283.0,590.6M201.8,589.8L201.8,584.8M274.2,590.6L274.2,584.8M201.8,584.8L274.2,584.8M152.1,587.2L152.1,583.3M238.0,584.8L238.0,583.3M152.1,583.3L238.0,583.3M300.5,597.8L300.5,594.6M305.7,597.8L305.7,594.6M300.5,594.6L305.7,594.6M303.1,594.6L303.1,591.9M310.9,597.8L310.9,591.9M303.1,591.9L310.9,591.9M321.3,597.8L321.3,594.0M326.5,597.8L326.5,594.0M321.3,594.0L326.5,594.0M316.1,597.8L316.1,593.5M323.9,594.0L323.9,593.5M316.1,593.5L323.9,593.5M331.7,597.8L331.7,594.6M336.9,597.8L336.9,594.6M331.7,594.6L336.9,594.6M320.0,593.5L320.0,591.7M334.3,594.6L334.3,591.7M320.0,591.7L334.3,591.7M307.0,591.9L307.0,587.5M327.1,591.7L327.1,587.5M307.0,587.5L327.1,587.5M195.1,583.3L195.1,576.4M317.1,587.5L317.1,576.4M195.1,576.4L317.1,576.4M126.5,581.1L126.5,566.1M256.1,576.4L256.1,566.1M126.5,566.1L256.1,566.1M46.7,569.4L46.7,559.1M191.3,566.1L191.3,559.1M46.7,559.1L191.3,559.1" stroke="#000" stroke-width="1" fill="none" stroke-linecap="square"/>
<text x="343.9" y="612.6" font-size="15.30" fill="#000">Batch</text>
<text x="343.9" y="632.2" font-size="15.30" fill="#000">Known Condition</text>
<text x="343.9" y="651.8" font-size="15.30" fill="#000">KNN Training</text>
<text x="343.9" y="671.4" font-size="15.30" fill="#000">KNN Prediction</text>
<text x="343.6" y="699.1" font-size="12.80" fill="#000">0−ac</text>
<text x="343.6" y="728.8" font-size="12.80" fill="#000">Mono−ac</text>
<text x="343.6" y="757.9" font-size="12.80" fill="#000">Di−ac</text>
<text x="343.6" y="787.3" font-size="12.80" fill="#000">Tri−ac</text>
<text x="343.6" y="816.8" font-size="12.80" fill="#000">Tetra−ac</text>
<text x="489.9" y="611.8" font-size="12.90" font-weight="bold" fill="#000">Batch</text>
<rect x="489.6" y="619.9" width="13.4" height="13.6" fill="#e41a1c"/>
<text x="507.8" y="631.1" font-size="12.80" fill="#000">1</text>
<rect x="489.6" y="634.8" width="13.4" height="13.6" fill="#377eb8"/>
<text x="507.8" y="646.0" font-size="12.80" fill="#000">2</text>
<rect x="489.6" y="649.7" width="13.4" height="13.6" fill="#4daf4a"/>
<text x="507.8" y="660.9" font-size="12.80" fill="#000">3</text>
<rect x="489.6" y="664.6" width="13.4" height="13.6" fill="#984ea3"/>
<text x="507.8" y="675.8" font-size="12.80" fill="#000">4</text>
<rect x="489.6" y="679.5" width="13.4" height="13.6" fill="#ff7f00"/>
<text x="507.8" y="690.7" font-size="12.80" fill="#000">5</text>
<text x="489.0" y="720.6" font-size="12.90" font-weight="bold" fill="#000">Z−score</text>
<defs><linearGradient id="zg" x1="0" y1="0" x2="0" y2="1">
<stop offset="0.000" stop-color="#ff0000"/>
<stop offset="0.062" stop-color="#ff2c15"/>
<stop offset="0.125" stop-color="#ff5636"/>
<stop offset="0.188" stop-color="#ff7454"/>
<stop offset="0.250" stop-color="#ff8f71"/>
<stop offset="0.312" stop-color="#ffa88f"/>
<stop offset="0.375" stop-color="#ffc0ae"/>
<stop offset="0.438" stop-color="#fad7ce"/>
<stop offset="0.500" stop-color="#eeeeee"/>
<stop offset="0.562" stop-color="#ded1f2"/>
<stop offset="0.625" stop-color="#cdb4f5"/>
<stop offset="0.688" stop-color="#ba98f8"/>
<stop offset="0.750" stop-color="#a47cfa"/>
<stop offset="0.812" stop-color="#8b5ffc"/>
<stop offset="0.875" stop-color="#6b41fd"/>
<stop offset="0.938" stop-color="#3b1dff"/>
<stop offset="1.000" stop-color="#0000ff"/>
</linearGradient></defs>
<rect x="488.3" y="727.9" width="16" height="79.1" fill="url(#zg)"/>
<line x1="488.3" x2="491.3" y1="730.8" y2="730.8" stroke="#fff" stroke-width="1"/>
<line x1="501.3" x2="504.3" y1="730.8" y2="730.8" stroke="#fff" stroke-width="1"/>
<text x="507.6" y="735.2" font-size="12.80" fill="#000">4</text>
<line x1="488.3" x2="491.3" y1="749.1" y2="749.1" stroke="#fff" stroke-width="1"/>
<line x1="501.3" x2="504.3" y1="749.1" y2="749.1" stroke="#fff" stroke-width="1"/>
<text x="507.6" y="753.5" font-size="12.80" fill="#000">2</text>
<line x1="488.3" x2="491.3" y1="767.4" y2="767.4" stroke="#fff" stroke-width="1"/>
<line x1="501.3" x2="504.3" y1="767.4" y2="767.4" stroke="#fff" stroke-width="1"/>
<text x="507.6" y="771.8" font-size="12.80" fill="#000">0</text>
<line x1="488.3" x2="491.3" y1="785.7" y2="785.7" stroke="#fff" stroke-width="1"/>
<line x1="501.3" x2="504.3" y1="785.7" y2="785.7" stroke="#fff" stroke-width="1"/>
<text x="507.6" y="790.1" font-size="12.80" fill="#000">−2</text>
<line x1="488.3" x2="491.3" y1="804.0" y2="804.0" stroke="#fff" stroke-width="1"/>
<line x1="501.3" x2="504.3" y1="804.0" y2="804.0" stroke="#fff" stroke-width="1"/>
<text x="507.6" y="808.4" font-size="12.80" fill="#000">−4</text>
<text x="576.4" y="611.8" font-size="12.90" font-weight="bold" fill="#000">Known Condition</text>
<rect x="576.4" y="619.9" width="13.4" height="13.6" fill="#2f7bc2"/>
<text x="594.3" y="631.1" font-size="12.80" fill="#000">Control</text>
<rect x="576.4" y="634.8" width="13.4" height="13.6" fill="#bebebe"/>
<text x="594.3" y="646.0" font-size="12.80" fill="#000">Mix</text>
<rect x="576.4" y="649.7" width="13.4" height="13.6" fill="#c0392b"/>
<text x="594.3" y="660.9" font-size="12.80" fill="#000">Treat</text>
<text x="575.5" y="694.2" font-size="12.90" font-weight="bold" fill="#000">KNN Training</text>
<rect x="575.1" y="702.3" width="13.7" height="13.4" fill="#fc8d62"/>
<text x="593.8" y="713.7" font-size="12.80" fill="#000">Test</text>
<rect x="575.1" y="717.4" width="13.7" height="13.4" fill="#66c2a5"/>
<text x="593.8" y="728.8" font-size="12.80" fill="#000">Train</text>
<text x="575.5" y="774.5" font-size="12.90" font-weight="bold" fill="#000">KNN Prediction</text>
<rect x="575.1" y="782.6" width="13.7" height="13.4" fill="#2f7bc2"/>
<text x="593.8" y="793.6" font-size="12.80" fill="#000">Control</text>
<rect x="575.1" y="797.2" width="13.7" height="13.4" fill="#c0392b"/>
<text x="593.8" y="808.2" font-size="12.80" fill="#000">Treat</text>
<text x="8.3" y="22.7" font-size="18" font-weight="bold">A</text>
<path d="M23.0,70.4 L23.0,78.5 A22.4,12.2 0 0 0 67.8,78.5 L67.8,70.4 Z" fill="#e6f0fa" stroke="#a9c6e8" stroke-width="0.6"/><ellipse cx="45.4" cy="70.4" rx="22.4" ry="12.2" fill="#e6f0fa" stroke="#a9c6e8" stroke-width="0.6"/><ellipse cx="45.4" cy="73.7" rx="20.8" ry="11.0" fill="#ddeaf7" stroke="#a9c6e8" stroke-width="0.5" stroke-opacity="0.7"/><ellipse cx="41.1" cy="68.7" rx="2.55" ry="1.6" fill="#3a62ad" stroke="#86a5d6" stroke-width="0.45"/><ellipse cx="51.5" cy="68.7" rx="2.55" ry="1.6" fill="#3a62ad" stroke="#86a5d6" stroke-width="0.45"/><ellipse cx="38.5" cy="71.0" rx="2.55" ry="1.6" fill="#3a62ad" stroke="#86a5d6" stroke-width="0.45"/><ellipse cx="43.7" cy="71.0" rx="2.55" ry="1.6" fill="#3a62ad" stroke="#86a5d6" stroke-width="0.45"/><ellipse cx="48.9" cy="71.0" rx="2.55" ry="1.6" fill="#3a62ad" stroke="#86a5d6" stroke-width="0.45"/><ellipse cx="54.1" cy="71.0" rx="2.55" ry="1.6" fill="#3a62ad" stroke="#86a5d6" stroke-width="0.45"/><ellipse cx="35.9" cy="73.5" rx="2.55" ry="1.6" fill="#3a62ad" stroke="#86a5d6" stroke-width="0.45"/><ellipse cx="41.1" cy="73.5" rx="2.55" ry="1.6" fill="#3a62ad" stroke="#86a5d6" stroke-width="0.45"/><ellipse cx="46.3" cy="73.5" rx="2.55" ry="1.6" fill="#3a62ad" stroke="#86a5d6" stroke-width="0.45"/><ellipse cx="51.5" cy="73.5" rx="2.55" ry="1.6" fill="#3a62ad" stroke="#86a5d6" stroke-width="0.45"/><ellipse cx="56.7" cy="73.5" rx="2.55" ry="1.6" fill="#3a62ad" stroke="#86a5d6" stroke-width="0.45"/><ellipse cx="33.3" cy="75.9" rx="2.55" ry="1.6" fill="#3a62ad" stroke="#86a5d6" stroke-width="0.45"/><ellipse cx="38.5" cy="75.9" rx="2.55" ry="1.6" fill="#3a62ad" stroke="#86a5d6" stroke-width="0.45"/><ellipse cx="43.7" cy="75.9" rx="2.55" ry="1.6" fill="#3a62ad" stroke="#86a5d6" stroke-width="0.45"/><ellipse cx="48.9" cy="75.9" rx="2.55" ry="1.6" fill="#3a62ad" stroke="#86a5d6" stroke-width="0.45"/><ellipse cx="54.1" cy="75.9" rx="2.55" ry="1.6" fill="#3a62ad" stroke="#86a5d6" stroke-width="0.45"/><ellipse cx="59.3" cy="75.9" rx="2.55" ry="1.6" fill="#3a62ad" stroke="#86a5d6" stroke-width="0.45"/><ellipse cx="35.9" cy="78.2" rx="2.55" ry="1.6" fill="#3a62ad" stroke="#86a5d6" stroke-width="0.45"/><ellipse cx="41.1" cy="78.2" rx="2.55" ry="1.6" fill="#3a62ad" stroke="#86a5d6" stroke-width="0.45"/><ellipse cx="46.3" cy="78.2" rx="2.55" ry="1.6" fill="#3a62ad" stroke="#86a5d6" stroke-width="0.45"/><ellipse cx="51.5" cy="78.2" rx="2.55" ry="1.6" fill="#3a62ad" stroke="#86a5d6" stroke-width="0.45"/><ellipse cx="38.5" cy="80.7" rx="2.55" ry="1.6" fill="#3a62ad" stroke="#86a5d6" stroke-width="0.45"/><ellipse cx="43.7" cy="80.7" rx="2.55" ry="1.6" fill="#3a62ad" stroke="#86a5d6" stroke-width="0.45"/>
<path d="M22.1,198.3 L22.1,206.5 A22.4,12.2 0 0 0 66.9,206.5 L66.9,198.3 Z" fill="#f9e2e2" stroke="#dfa0a0" stroke-width="0.6"/><ellipse cx="44.5" cy="198.3" rx="22.4" ry="12.2" fill="#f9e2e2" stroke="#dfa0a0" stroke-width="0.6"/><ellipse cx="44.5" cy="201.7" rx="20.8" ry="11.0" fill="#f5d8d8" stroke="#dfa0a0" stroke-width="0.5" stroke-opacity="0.7"/><ellipse cx="40.2" cy="196.6" rx="2.55" ry="1.6" fill="#ad3434" stroke="#dc9a9a" stroke-width="0.45"/><ellipse cx="50.6" cy="196.6" rx="2.55" ry="1.6" fill="#ad3434" stroke="#dc9a9a" stroke-width="0.45"/><ellipse cx="37.6" cy="199.0" rx="2.55" ry="1.6" fill="#ad3434" stroke="#dc9a9a" stroke-width="0.45"/><ellipse cx="42.8" cy="199.0" rx="2.55" ry="1.6" fill="#ad3434" stroke="#dc9a9a" stroke-width="0.45"/><ellipse cx="48.0" cy="199.0" rx="2.55" ry="1.6" fill="#ad3434" stroke="#dc9a9a" stroke-width="0.45"/><ellipse cx="53.2" cy="199.0" rx="2.55" ry="1.6" fill="#ad3434" stroke="#dc9a9a" stroke-width="0.45"/><ellipse cx="35.0" cy="201.4" rx="2.55" ry="1.6" fill="#ad3434" stroke="#dc9a9a" stroke-width="0.45"/><ellipse cx="40.2" cy="201.4" rx="2.55" ry="1.6" fill="#ad3434" stroke="#dc9a9a" stroke-width="0.45"/><ellipse cx="45.4" cy="201.4" rx="2.55" ry="1.6" fill="#ad3434" stroke="#dc9a9a" stroke-width="0.45"/><ellipse cx="50.6" cy="201.4" rx="2.55" ry="1.6" fill="#ad3434" stroke="#dc9a9a" stroke-width="0.45"/><ellipse cx="55.8" cy="201.4" rx="2.55" ry="1.6" fill="#ad3434" stroke="#dc9a9a" stroke-width="0.45"/><ellipse cx="32.4" cy="203.8" rx="2.55" ry="1.6" fill="#ad3434" stroke="#dc9a9a" stroke-width="0.45"/><ellipse cx="37.6" cy="203.8" rx="2.55" ry="1.6" fill="#ad3434" stroke="#dc9a9a" stroke-width="0.45"/><ellipse cx="42.8" cy="203.8" rx="2.55" ry="1.6" fill="#ad3434" stroke="#dc9a9a" stroke-width="0.45"/><ellipse cx="48.0" cy="203.8" rx="2.55" ry="1.6" fill="#ad3434" stroke="#dc9a9a" stroke-width="0.45"/><ellipse cx="53.2" cy="203.8" rx="2.55" ry="1.6" fill="#ad3434" stroke="#dc9a9a" stroke-width="0.45"/><ellipse cx="58.4" cy="203.8" rx="2.55" ry="1.6" fill="#ad3434" stroke="#dc9a9a" stroke-width="0.45"/><ellipse cx="35.0" cy="206.2" rx="2.55" ry="1.6" fill="#ad3434" stroke="#dc9a9a" stroke-width="0.45"/><ellipse cx="40.2" cy="206.2" rx="2.55" ry="1.6" fill="#ad3434" stroke="#dc9a9a" stroke-width="0.45"/><ellipse cx="45.4" cy="206.2" rx="2.55" ry="1.6" fill="#ad3434" stroke="#dc9a9a" stroke-width="0.45"/><ellipse cx="50.6" cy="206.2" rx="2.55" ry="1.6" fill="#ad3434" stroke="#dc9a9a" stroke-width="0.45"/><ellipse cx="37.6" cy="208.6" rx="2.55" ry="1.6" fill="#ad3434" stroke="#dc9a9a" stroke-width="0.45"/><ellipse cx="42.8" cy="208.6" rx="2.55" ry="1.6" fill="#ad3434" stroke="#dc9a9a" stroke-width="0.45"/>
<text x="9.6" y="79.6" font-size="9.60" textLength="8.8" lengthAdjust="spacingAndGlyphs" fill="#222">x2</text>
<text x="9.6" y="208.9" font-size="9.60" textLength="8.8" lengthAdjust="spacingAndGlyphs" fill="#222">x2</text>
<text x="31.8" y="102.9" font-size="8.40" font-weight="bold" textLength="27.7" lengthAdjust="spacingAndGlyphs" fill="#4a72be">Control</text>
<text x="25.4" y="112.7" font-size="8.60" textLength="39.6" lengthAdjust="spacingAndGlyphs" fill="#222">HeLa cells</text>
<text x="16.9" y="151.8" font-size="8.60" textLength="48.4" lengthAdjust="spacingAndGlyphs" fill="#222">5 mM NaBut</text>
<text x="31.0" y="231.6" font-size="8.40" font-weight="bold" textLength="28.8" lengthAdjust="spacingAndGlyphs" fill="#c23838">Treated</text>
<text x="25.4" y="241.2" font-size="8.60" textLength="39.6" lengthAdjust="spacingAndGlyphs" fill="#222">HeLa cells</text>
<path d="M74.1,85.6 H129 M98.5,85.6 V141.5 H128" fill="none" stroke="#4a72be" stroke-width="1.3"/>
<path d="M132.6,85.6 L128.2,83.3 L128.2,87.9 Z" fill="#4a72be"/>
<path d="M131.2,141.5 L126.8,139.2 L126.8,143.8 Z" fill="#4a72be"/>
<path d="M73.9,205.9 H128 M98.5,205.9 V147.5 H128" fill="none" stroke="#a83232" stroke-width="1.3"/>
<path d="M131.2,147.5 L126.8,145.2 L126.8,149.8 Z" fill="#a83232"/>
<path d="M131.2,205.9 L126.8,203.6 L126.8,208.2 Z" fill="#a83232"/>
<g transform="translate(44.1,183.3) rotate(-45.7)">
<path d="M0,-0.35 L9.5,-0.6 L9.5,0.6 L0,0.35 Z" fill="#a32a2a"/>
<path d="M9.3,-1.1 L18.5,-1.3 L18.5,1.3 L9.3,1.1 Z" fill="#a32a2a"/>
<path d="M18,-2.2 L20,-3.1 L32.5,-3.6 L32.5,3.6 L20,3.1 L18,2.2 Z" fill="#a32a2a"/>
<rect x="32" y="-4.3" width="2.6" height="8.6" fill="#a32a2a"/>
<path d="M32,3.5 L35.5,3.8 L36.5,6.8 L34.5,7.2 Z" fill="#a32a2a"/>
<rect x="34.3" y="-1" width="4.2" height="2" fill="#a32a2a"/>
<rect x="38" y="-2.4" width="2.2" height="4.8" rx="0.6" fill="#a32a2a"/>
</g>
<g transform="translate(129.5,41.6) rotate(42)"><rect x="-7.5" y="-3.2" width="15" height="6.4" rx="1.6" fill="#eef2f4" stroke="#8f9aa3" stroke-width="0.7"/></g><path d="M134.5,46.1 Q137,49.6 140.5,50.4" fill="none" stroke="#8f9aa3" stroke-width="0.7"/><path d="M140.3,51.6 L140.3,74.1 L146.9,97.9 Q148.2,99.3 149.5,97.9 L156.2,74.1 L156.2,51.6 Z" fill="#eef2f4" stroke="#8f9aa3" stroke-width="0.7"/><path d="M140.7,74.7 L147.0,97.5 Q148.2,98.7 149.4,97.5 L155.8,74.7 Z" fill="#bfe1f1" stroke="#8fbfd8" stroke-width="0.4"/><rect x="139.4" y="50.1" width="17.8" height="1.9" rx="0.5" fill="#e4e9ec" stroke="#8f9aa3" stroke-width="0.6"/><line x1="153" x2="155.2" y1="55.7" y2="55.7" stroke="#9aa4ac" stroke-width="0.6"/><line x1="153" x2="155.2" y1="64.4" y2="64.4" stroke="#9aa4ac" stroke-width="0.6"/><circle cx="145.9" cy="78.3" r="1.95" fill="#2f5597"/><circle cx="150.3" cy="76.8" r="1.95" fill="#2f5597"/><circle cx="145.6" cy="83.4" r="1.95" fill="#2f5597"/><circle cx="150.3" cy="83.4" r="1.95" fill="#2f5597"/><circle cx="148.4" cy="88.1" r="1.95" fill="#2f5597"/><circle cx="148.1" cy="92.4" r="1.95" fill="#2f5597"/>
<g transform="translate(129.5,117.6) rotate(42)"><rect x="-7.5" y="-3.2" width="15" height="6.4" rx="1.6" fill="#eef2f4" stroke="#8f9aa3" stroke-width="0.7"/></g><path d="M134.5,122.1 Q137,125.6 140.5,126.4" fill="none" stroke="#8f9aa3" stroke-width="0.7"/><path d="M140.3,127.6 L140.3,150.1 L146.9,173.9 Q148.2,175.3 149.5,173.9 L156.2,150.1 L156.2,127.6 Z" fill="#eef2f4" stroke="#8f9aa3" stroke-width="0.7"/><path d="M140.7,150.7 L147.0,173.5 Q148.2,174.7 149.4,173.5 L155.8,150.7 Z" fill="#bfe1f1" stroke="#8fbfd8" stroke-width="0.4"/><rect x="139.4" y="126.1" width="17.8" height="1.9" rx="0.5" fill="#e4e9ec" stroke="#8f9aa3" stroke-width="0.6"/><line x1="153" x2="155.2" y1="131.7" y2="131.7" stroke="#9aa4ac" stroke-width="0.6"/><line x1="153" x2="155.2" y1="140.4" y2="140.4" stroke="#9aa4ac" stroke-width="0.6"/><circle cx="145.1" cy="155.0" r="1.95" fill="#3f6fbf"/><circle cx="151.0" cy="152.0" r="1.95" fill="#3f6fbf"/><circle cx="150.4" cy="156.8" r="1.95" fill="#b22d2d"/><circle cx="146.7" cy="159.7" r="1.95" fill="#b22d2d"/><circle cx="148.9" cy="164.3" r="1.95" fill="#3f6fbf"/><circle cx="148.1" cy="169.0" r="1.95" fill="#b22d2d"/>
<g transform="translate(129.5,193.0) rotate(42)"><rect x="-7.5" y="-3.2" width="15" height="6.4" rx="1.6" fill="#eef2f4" stroke="#8f9aa3" stroke-width="0.7"/></g><path d="M134.5,197.5 Q137,201.0 140.5,201.8" fill="none" stroke="#8f9aa3" stroke-width="0.7"/><path d="M140.3,203.0 L140.3,225.5 L146.9,249.3 Q148.2,250.7 149.5,249.3 L156.2,225.5 L156.2,203.0 Z" fill="#eef2f4" stroke="#8f9aa3" stroke-width="0.7"/><path d="M140.7,226.1 L147.0,248.9 Q148.2,250.1 149.4,248.9 L155.8,226.1 Z" fill="#bfe1f1" stroke="#8fbfd8" stroke-width="0.4"/><rect x="139.4" y="201.5" width="17.8" height="1.9" rx="0.5" fill="#e4e9ec" stroke="#8f9aa3" stroke-width="0.6"/><line x1="153" x2="155.2" y1="207.1" y2="207.1" stroke="#9aa4ac" stroke-width="0.6"/><line x1="153" x2="155.2" y1="215.8" y2="215.8" stroke="#9aa4ac" stroke-width="0.6"/><circle cx="145.4" cy="229.9" r="1.95" fill="#b22d2d"/><circle cx="149.8" cy="228.7" r="1.95" fill="#b22d2d"/><circle cx="145.4" cy="234.8" r="1.95" fill="#b22d2d"/><circle cx="149.8" cy="234.8" r="1.95" fill="#b22d2d"/><circle cx="148.1" cy="239.2" r="1.95" fill="#b22d2d"/><circle cx="147.5" cy="243.6" r="1.95" fill="#b22d2d"/>
<text x="136.4" y="108.5" font-size="7.40" font-weight="bold" textLength="24.1" lengthAdjust="spacingAndGlyphs" fill="#4a72be">Control</text>
<text x="138.1" y="184.8" font-size="7.40" font-weight="bold" textLength="20.5" lengthAdjust="spacingAndGlyphs" fill="#333">Mixed</text>
<text x="134.1" y="260.8" font-size="7.40" font-weight="bold" textLength="25.4" lengthAdjust="spacingAndGlyphs" fill="#c23838">Treated</text>
<line x1="164.5" y1="144.5" x2="185" y2="144.5" stroke="#111" stroke-width="1.6"/>
<path d="M191.1,144.5 L184.1,141.2 L184.1,147.8 Z" fill="#111"/>
<rect x="194.2" y="117.2" width="30" height="23.8" fill="#cfd3d6" stroke="#a9aeb3" stroke-width="0.5"/>
<rect x="194.9" y="117.9" width="28.7" height="21.4" fill="#2c2c2c"/>
<path d="M207,139.3 L223.6,121 L223.6,129 L214.5,139.3 Z" fill="#474747"/>
<rect x="204.8" y="141" width="8.2" height="9" fill="#ececec" stroke="#b8b8b8" stroke-width="0.5"/>
<path d="M200.5,150.5 L217,150.5 L218,152 L199.5,152 Z" fill="#e6e6e6" stroke="#b8b8b8" stroke-width="0.4"/>
<path d="M193,152.3 L216,152.3 L217.5,157.5 L191,157.5 Z" fill="#d9d9d9" stroke="#a5a5a5" stroke-width="0.5"/>
<path d="M194,153.4 L215,153.4 L215.8,156 L193,156 Z" fill="#8c8c8c"/>
<path d="M217,152.5 L226.5,152.5 L227.4,157.5 L218,157.5 Z" fill="#dcdcdc" stroke="#a5a5a5" stroke-width="0.5"/>
<ellipse cx="221.5" cy="154.7" rx="2.2" ry="1.2" fill="#888"/>
<path d="M189.5,157.6 L228,157.6 L228,159 L189.5,159 Z" fill="#e8e8e8" stroke="#b5b5b5" stroke-width="0.4"/>
<path d="M212.5,147.5 L229.5,139.5 L230,143 L213.5,150 Z" fill="#e4e4e4" stroke="#aaa" stroke-width="0.5"/>
<path d="M263.5,110 L284.3,106.5 L284.3,203.8 L263.5,209.6 Z" fill="#e2e2e2" stroke="#bcbcbc" stroke-width="0.6"/>
<path d="M229.5,114 Q229.5,109.5 234,109.2 L263.5,110 L263.5,209.6 L229,206.7 Z" fill="#f5f5f5" stroke="#bdbdbd" stroke-width="0.6"/>
<path d="M234,109.2 L240,106 L279,104.5 L284.3,106.5 L263.5,110 Z" fill="#dadada" stroke="#bdbdbd" stroke-width="0.5"/>
<rect x="230.7" y="117.9" width="34.3" height="18.3" fill="#2a2a2a"/>
<path d="M230.6,118 L230.6,112 Q231,107.5 235.5,107.2 L266,106.6 L266,118 Z" fill="#8a98a6"/>
<rect x="270" y="117" width="3" height="6.8" fill="#333"/>
<line x1="229.5" y1="142.6" x2="263.5" y2="143.6" stroke="#c4c4c4" stroke-width="0.6"/>
<line x1="263.5" y1="143.6" x2="284.3" y2="141.5" stroke="#c4c4c4" stroke-width="0.6"/>
<path d="M232.6,144 L263.2,144.8 L263.2,206.5 L232.6,204.5 Z" fill="#f8f8f8" stroke="#c8c8c8" stroke-width="0.5"/>
<circle cx="238.2" cy="139.4" r="0.9" fill="#bbb"/>
<circle cx="242.3" cy="139.4" r="0.9" fill="#bbb"/>
<circle cx="251.8" cy="139.4" r="0.9" fill="#4caf50"/>
<circle cx="256.9" cy="139.4" r="0.9" fill="#e53935"/>
<circle cx="246.6" cy="139.4" r="2.1" fill="#f2b705"/><circle cx="246.6" cy="139.4" r="1.3" fill="#e23b2e"/>
<rect x="230.6" y="148.5" width="2.6" height="3.4" rx="0.5" fill="#2a2a2a"/>
<rect x="230.6" y="173.0" width="2.6" height="3.4" rx="0.5" fill="#2a2a2a"/>
<rect x="230.6" y="196.5" width="2.6" height="3.4" rx="0.5" fill="#2a2a2a"/>
<rect x="258.2" y="163.6" width="3.8" height="2" fill="#2a2a2a"/>
<rect x="275.5" y="153" width="2.2" height="10" fill="none" stroke="#c9c9c9" stroke-width="0.5"/>
<ellipse cx="233.6" cy="208.9" rx="2.4" ry="1.6" fill="#f0f0f0" stroke="#666" stroke-width="0.7"/>
<ellipse cx="267.2" cy="212.8" rx="2.4" ry="1.6" fill="#f0f0f0" stroke="#666" stroke-width="0.7"/>
<ellipse cx="282.5" cy="204.5" rx="2.4" ry="1.6" fill="#f0f0f0" stroke="#666" stroke-width="0.7"/>
<path d="M206.6,94.4 L299.3,94.4 L251.8,134.7 Z" fill="#a9c3dc" fill-opacity="0.78"/>
<text x="253" y="21.5" font-size="8.7" text-anchor="middle" fill="#222" textLength="84.9" lengthAdjust="spacingAndGlyphs">Prepared plate of bulk</text>
<text x="253" y="31" font-size="8.7" text-anchor="middle" fill="#222" textLength="90.3" lengthAdjust="spacingAndGlyphs">and single cell samples</text>
<rect x="206.4" y="38.9" width="93" height="55.2" fill="#fff" stroke="#6a73b4" stroke-width="0.9"/>
<rect x="221.2" y="46.3" width="62.7" height="44.8" rx="1.5" fill="#e9eef1" stroke="#c5ced5" stroke-width="0.6"/>
<text x="221.5" y="45.4" font-size="5.40" textLength="55.7" lengthAdjust="spacingAndGlyphs" fill="#333">Control Treated Mixed</text>
<path d="M227.5,51 V48.6 H239.6 V51 M240.8,51 V48.6 H253.9 V51 M255.1,51 V48.6 H280.2 V51" fill="none" stroke="#222" stroke-width="0.8"/>
<circle cx="229.4" cy="53.8" r="1.95" fill="#2f80d0"/>
<circle cx="233.8" cy="53.8" r="1.95" fill="#2f80d0"/>
<circle cx="238.4" cy="53.8" r="1.95" fill="#2f80d0"/>
<circle cx="243.0" cy="53.8" r="1.95" fill="#c83232"/>
<circle cx="247.4" cy="53.8" r="1.95" fill="#c83232"/>
<circle cx="251.9" cy="53.8" r="1.95" fill="#c83232"/>
<circle cx="256.3" cy="53.8" r="1.95" fill="#2f80d0"/>
<circle cx="260.7" cy="53.8" r="1.95" fill="#2f80d0"/>
<circle cx="265.2" cy="53.8" r="1.95" fill="#2f80d0"/>
<circle cx="269.8" cy="53.8" r="1.95" fill="#2f80d0"/>
<circle cx="274.2" cy="53.8" r="1.95" fill="#c83232"/>
<circle cx="278.6" cy="53.8" r="1.95" fill="#2f80d0"/>
<circle cx="229.4" cy="58.4" r="1.95" fill="#2f80d0"/>
<circle cx="233.8" cy="58.4" r="1.95" fill="#2f80d0"/>
<circle cx="238.4" cy="58.4" r="1.95" fill="#2f80d0"/>
<circle cx="243.0" cy="58.4" r="1.95" fill="#c83232"/>
<circle cx="247.4" cy="58.4" r="1.95" fill="#c83232"/>
<circle cx="251.9" cy="58.4" r="1.95" fill="#c83232"/>
<circle cx="256.3" cy="58.4" r="1.95" fill="#c83232"/>
<circle cx="260.7" cy="58.4" r="1.95" fill="#2f80d0"/>
<circle cx="265.2" cy="58.4" r="1.95" fill="#c83232"/>
<circle cx="269.8" cy="58.4" r="1.95" fill="#c83232"/>
<circle cx="274.2" cy="58.4" r="1.95" fill="#2f80d0"/>
<circle cx="278.6" cy="58.4" r="1.95" fill="#c83232"/>
<circle cx="229.4" cy="63.0" r="1.95" fill="#2f80d0"/>
<circle cx="233.8" cy="63.0" r="1.95" fill="#2f80d0"/>
<circle cx="238.4" cy="63.0" r="1.95" fill="#2f80d0"/>
<circle cx="243.0" cy="63.0" r="1.95" fill="#c83232"/>
<circle cx="247.4" cy="63.0" r="1.95" fill="#c83232"/>
<circle cx="251.9" cy="63.0" r="1.95" fill="#c83232"/>
<circle cx="256.3" cy="63.0" r="1.95" fill="#c83232"/>
<circle cx="260.7" cy="63.0" r="1.95" fill="#c83232"/>
<circle cx="265.2" cy="63.0" r="1.95" fill="#2f80d0"/>
<circle cx="269.8" cy="63.0" r="1.95" fill="#2f80d0"/>
<circle cx="274.2" cy="63.0" r="1.95" fill="#c83232"/>
<circle cx="278.6" cy="63.0" r="1.95" fill="#2f80d0"/>
<circle cx="229.4" cy="67.4" r="1.95" fill="#2f80d0"/>
<circle cx="233.8" cy="67.4" r="1.95" fill="#2f80d0"/>
<circle cx="238.4" cy="67.4" r="1.95" fill="#2f80d0"/>
<circle cx="243.0" cy="67.4" r="1.95" fill="#c83232"/>
<circle cx="247.4" cy="67.4" r="1.95" fill="#c83232"/>
<circle cx="251.9" cy="67.4" r="1.95" fill="#c83232"/>
<circle cx="256.3" cy="67.4" r="1.95" fill="#c83232"/>
<circle cx="260.7" cy="67.4" r="1.95" fill="#2f80d0"/>
<circle cx="265.2" cy="67.4" r="1.95" fill="#c83232"/>
<circle cx="269.8" cy="67.4" r="1.95" fill="#2f80d0"/>
<circle cx="274.2" cy="67.4" r="1.95" fill="#c83232"/>
<circle cx="278.6" cy="67.4" r="1.95" fill="#2f80d0"/>
<circle cx="229.4" cy="71.9" r="1.95" fill="#2f80d0"/>
<circle cx="233.8" cy="71.9" r="1.95" fill="#2f80d0"/>
<circle cx="238.4" cy="71.9" r="1.95" fill="#2f80d0"/>
<circle cx="243.0" cy="71.9" r="1.95" fill="#c83232"/>
<circle cx="247.4" cy="71.9" r="1.95" fill="#c83232"/>
<circle cx="251.9" cy="71.9" r="1.95" fill="#c83232"/>
<circle cx="256.3" cy="71.9" r="1.95" fill="#c83232"/>
<circle cx="260.7" cy="71.9" r="1.95" fill="#2f80d0"/>
<circle cx="265.2" cy="71.9" r="1.95" fill="#c83232"/>
<circle cx="269.8" cy="71.9" r="1.95" fill="#c83232"/>
<circle cx="274.2" cy="71.9" r="1.95" fill="#2f80d0"/>
<circle cx="278.6" cy="71.9" r="1.95" fill="#c83232"/>
<circle cx="229.4" cy="76.3" r="1.95" fill="#2f80d0"/>
<circle cx="233.8" cy="76.3" r="1.95" fill="#2f80d0"/>
<circle cx="238.4" cy="76.3" r="1.95" fill="#2f80d0"/>
<circle cx="243.0" cy="76.3" r="1.95" fill="#c83232"/>
<circle cx="247.4" cy="76.3" r="1.95" fill="#c83232"/>
<circle cx="251.9" cy="76.3" r="1.95" fill="#c83232"/>
<circle cx="256.3" cy="76.3" r="1.95" fill="#2f80d0"/>
<circle cx="260.7" cy="76.3" r="1.95" fill="#2f80d0"/>
<circle cx="265.2" cy="76.3" r="1.95" fill="#c83232"/>
<circle cx="269.8" cy="76.3" r="1.95" fill="#2f80d0"/>
<circle cx="274.2" cy="76.3" r="1.95" fill="#c83232"/>
<circle cx="278.6" cy="76.3" r="1.95" fill="#c83232"/>
<circle cx="229.4" cy="80.9" r="1.95" fill="#2f80d0"/>
<circle cx="233.8" cy="80.9" r="1.95" fill="#2f80d0"/>
<circle cx="238.4" cy="80.9" r="1.95" fill="#2f80d0"/>
<circle cx="243.0" cy="80.9" r="1.95" fill="#c83232"/>
<circle cx="247.4" cy="80.9" r="1.95" fill="#c83232"/>
<circle cx="251.9" cy="80.9" r="1.95" fill="#c83232"/>
<circle cx="256.3" cy="80.9" r="1.95" fill="#2f80d0"/>
<circle cx="260.7" cy="80.9" r="1.95" fill="#c83232"/>
<circle cx="265.2" cy="80.9" r="1.95" fill="#c83232"/>
<circle cx="269.8" cy="80.9" r="1.95" fill="#2f80d0"/>
<circle cx="274.2" cy="80.9" r="1.95" fill="#2f80d0"/>
<circle cx="278.6" cy="80.9" r="1.95" fill="#2f80d0"/>
<circle cx="229.4" cy="85.3" r="1.95" fill="#2f80d0"/>
<circle cx="233.8" cy="85.3" r="1.95" fill="#2f80d0"/>
<circle cx="238.4" cy="85.3" r="1.95" fill="#2f80d0"/>
<circle cx="243.0" cy="85.3" r="1.95" fill="#c83232"/>
<circle cx="247.4" cy="85.3" r="1.95" fill="#c83232"/>
<circle cx="251.9" cy="85.3" r="1.95" fill="#c83232"/>
<circle cx="256.3" cy="85.3" r="1.95" fill="#2f80d0"/>
<circle cx="260.7" cy="85.3" r="1.95" fill="#c83232"/>
<circle cx="265.2" cy="85.3" r="1.95" fill="#c83232"/>
<circle cx="269.8" cy="85.3" r="1.95" fill="#2f80d0"/>
<circle cx="274.2" cy="85.3" r="1.95" fill="#c83232"/>
<circle cx="278.6" cy="85.3" r="1.95" fill="#c83232"/>
<text x="240.9" y="224.9" font-size="8.5" text-anchor="middle" fill="#222" textLength="39.4" lengthAdjust="spacingAndGlyphs">cellenONE</text>
<text x="241" y="233.2" font-size="8.5" text-anchor="middle" fill="#222" textLength="44.1" lengthAdjust="spacingAndGlyphs">preparation</text>
</svg></body></html>
